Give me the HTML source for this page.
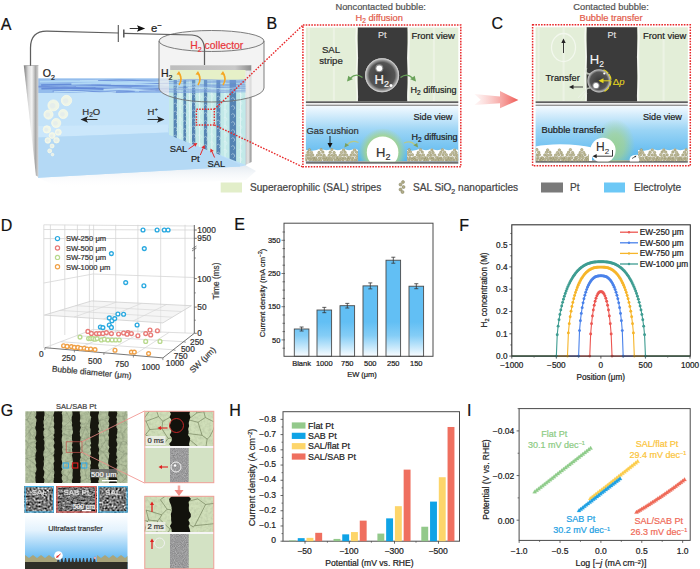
<!DOCTYPE html>
<html><head><meta charset="utf-8"><style>
html,body{margin:0;padding:0;background:#fff;overflow:hidden}
svg{display:block;font-family:"Liberation Sans", sans-serif}
</style></head><body>
<svg width="700" height="569" viewBox="0 0 700 569">
<text x="0.80" y="29.80" font-size="16" fill="#111" text-anchor="start" stroke="#111" stroke-width="0.22" >A</text>
<text x="266.50" y="29.30" font-size="16" fill="#111" text-anchor="start" stroke="#111" stroke-width="0.22" >B</text>
<text x="491.50" y="29.30" font-size="16" fill="#111" text-anchor="start" stroke="#111" stroke-width="0.22" >C</text>
<text x="0.80" y="230.50" font-size="16" fill="#111" text-anchor="start" stroke="#111" stroke-width="0.22" >D</text>
<text x="234.30" y="230.30" font-size="16" fill="#111" text-anchor="start" stroke="#111" stroke-width="0.22" >E</text>
<text x="459.30" y="230.50" font-size="16" fill="#111" text-anchor="start" stroke="#111" stroke-width="0.22" >F</text>
<text x="0.80" y="415.50" font-size="16" fill="#111" text-anchor="start" stroke="#111" stroke-width="0.22" >G</text>
<text x="229.30" y="415.50" font-size="16" fill="#111" text-anchor="start" stroke="#111" stroke-width="0.22" >H</text>
<text x="467.00" y="415.50" font-size="16" fill="#111" text-anchor="start" stroke="#111" stroke-width="0.22" >I</text>
<defs><linearGradient id="gE" x1="0" y1="322" x2="0" y2="356" gradientUnits="userSpaceOnUse"><stop offset="0" stop-color="#62bff4"/><stop offset="0.4" stop-color="#84cdf6"/><stop offset="1" stop-color="#f8fcff"/></linearGradient></defs>
<rect x="294.3" y="329.01" width="14.6" height="27.29" fill="url(#gE)" stroke="#4a4a4a" stroke-width="0.9"/>
<path d="M301.6 327.02V331.00M299.6 327.02h4M299.6 331.00h4" stroke="#333" stroke-width="0.8" fill="none"/>
<text x="301.60" y="365.80" font-size="7.5" fill="#222" text-anchor="middle" stroke="#222" stroke-width="0.22" >Blank</text>
<rect x="317" y="310.02" width="14.6" height="46.28" fill="url(#gE)" stroke="#4a4a4a" stroke-width="0.9"/>
<path d="M324.3 307.36V312.68M322.3 307.36h4M322.3 312.68h4" stroke="#333" stroke-width="0.8" fill="none"/>
<text x="324.30" y="365.80" font-size="7.5" fill="#222" text-anchor="middle" stroke="#222" stroke-width="0.22" >1000</text>
<rect x="340" y="305.70" width="14.6" height="50.60" fill="url(#gE)" stroke="#4a4a4a" stroke-width="0.9"/>
<path d="M347.3 303.38V308.03M345.3 303.38h4M345.3 308.03h4" stroke="#333" stroke-width="0.8" fill="none"/>
<text x="347.30" y="365.80" font-size="7.5" fill="#222" text-anchor="middle" stroke="#222" stroke-width="0.22" >750</text>
<rect x="363" y="285.88" width="14.6" height="70.42" fill="url(#gE)" stroke="#4a4a4a" stroke-width="0.9"/>
<path d="M370.3 282.90V288.87M368.3 282.90h4M368.3 288.87h4" stroke="#333" stroke-width="0.8" fill="none"/>
<text x="370.30" y="365.80" font-size="7.5" fill="#222" text-anchor="middle" stroke="#222" stroke-width="0.22" >500</text>
<rect x="386" y="260.22" width="14.6" height="96.08" fill="url(#gE)" stroke="#4a4a4a" stroke-width="0.9"/>
<path d="M393.3 257.23V263.21M391.3 257.23h4M391.3 263.21h4" stroke="#333" stroke-width="0.8" fill="none"/>
<text x="393.30" y="365.80" font-size="7.5" fill="#222" text-anchor="middle" stroke="#222" stroke-width="0.22" >250</text>
<rect x="409" y="286.22" width="14.6" height="70.08" fill="url(#gE)" stroke="#4a4a4a" stroke-width="0.9"/>
<path d="M416.3 283.73V288.71M414.3 283.73h4M414.3 288.71h4" stroke="#333" stroke-width="0.8" fill="none"/>
<text x="416.30" y="365.80" font-size="7.5" fill="#222" text-anchor="middle" stroke="#222" stroke-width="0.22" >150</text>
<rect x="284" y="223.2" width="149" height="133.10000000000002" fill="none" stroke="#4a4a4a" stroke-width="1"/>
<path d="M282.5 348.20h2.5" stroke="#444" stroke-width="0.7"/>
<path d="M281.5 339.90h3.5" stroke="#444" stroke-width="0.7"/>
<text x="280.40" y="342.50" font-size="7.5" fill="#222" text-anchor="end" stroke="#222" stroke-width="0.22" >50</text>
<path d="M282.5 331.60h2.5" stroke="#444" stroke-width="0.7"/>
<path d="M282.5 323.30h2.5" stroke="#444" stroke-width="0.7"/>
<path d="M282.5 315.00h2.5" stroke="#444" stroke-width="0.7"/>
<path d="M281.5 306.70h3.5" stroke="#444" stroke-width="0.7"/>
<text x="280.40" y="309.30" font-size="7.5" fill="#222" text-anchor="end" stroke="#222" stroke-width="0.22" >150</text>
<path d="M282.5 298.40h2.5" stroke="#444" stroke-width="0.7"/>
<path d="M282.5 290.10h2.5" stroke="#444" stroke-width="0.7"/>
<path d="M282.5 281.80h2.5" stroke="#444" stroke-width="0.7"/>
<path d="M281.5 273.50h3.5" stroke="#444" stroke-width="0.7"/>
<text x="280.40" y="276.10" font-size="7.5" fill="#222" text-anchor="end" stroke="#222" stroke-width="0.22" >250</text>
<path d="M282.5 265.20h2.5" stroke="#444" stroke-width="0.7"/>
<path d="M282.5 256.90h2.5" stroke="#444" stroke-width="0.7"/>
<path d="M282.5 248.60h2.5" stroke="#444" stroke-width="0.7"/>
<path d="M281.5 240.30h3.5" stroke="#444" stroke-width="0.7"/>
<text x="280.40" y="242.90" font-size="7.5" fill="#222" text-anchor="end" stroke="#222" stroke-width="0.22" >350</text>
<path d="M282.5 232.00h2.5" stroke="#444" stroke-width="0.7"/>
<text x="362.00" y="377.00" font-size="7.5" fill="#222" text-anchor="middle" stroke="#222" stroke-width="0.22" >EW (μm)</text>
<text transform="translate(264.5 293) rotate(-90)" font-size="7.7" fill="#222" stroke="#222" stroke-width="0.2" text-anchor="middle">Current density (mA cm<tspan dy="-2.5" font-size="5">−2</tspan><tspan dy="2.5">)</tspan></text>
<path d="M509.3 356.10h2.5" stroke="#333" stroke-width="0.8"/>
<text x="507.50" y="359.00" font-size="8.2" fill="#222" text-anchor="end" stroke="#222" stroke-width="0.22" >0.0</text>
<path d="M509.3 333.80h2.5" stroke="#333" stroke-width="0.8"/>
<text x="507.50" y="336.70" font-size="8.2" fill="#222" text-anchor="end" stroke="#222" stroke-width="0.22" >0.1</text>
<path d="M509.3 311.50h2.5" stroke="#333" stroke-width="0.8"/>
<text x="507.50" y="314.40" font-size="8.2" fill="#222" text-anchor="end" stroke="#222" stroke-width="0.22" >0.2</text>
<path d="M509.3 289.20h2.5" stroke="#333" stroke-width="0.8"/>
<text x="507.50" y="292.10" font-size="8.2" fill="#222" text-anchor="end" stroke="#222" stroke-width="0.22" >0.3</text>
<path d="M509.3 266.90h2.5" stroke="#333" stroke-width="0.8"/>
<text x="507.50" y="269.80" font-size="8.2" fill="#222" text-anchor="end" stroke="#222" stroke-width="0.22" >0.4</text>
<path d="M509.3 244.60h2.5" stroke="#333" stroke-width="0.8"/>
<text x="507.50" y="247.50" font-size="8.2" fill="#222" text-anchor="end" stroke="#222" stroke-width="0.22" >0.5</text>
<path d="M511.8 344.95h-1.5" stroke="#333" stroke-width="0.7"/>
<path d="M511.8 322.65h-1.5" stroke="#333" stroke-width="0.7"/>
<path d="M511.8 300.35h-1.5" stroke="#333" stroke-width="0.7"/>
<path d="M511.8 278.05h-1.5" stroke="#333" stroke-width="0.7"/>
<path d="M511.8 255.75h-1.5" stroke="#333" stroke-width="0.7"/>
<path d="M511.8 233.45h-1.5" stroke="#333" stroke-width="0.7"/>
<path d="M511.80 356.1v2.5" stroke="#333" stroke-width="0.8"/>
<text x="511.80" y="367.50" font-size="8.2" fill="#222" text-anchor="middle" stroke="#222" stroke-width="0.22" >−1000</text>
<path d="M556.35 356.1v2.5" stroke="#333" stroke-width="0.8"/>
<text x="556.35" y="367.50" font-size="8.2" fill="#222" text-anchor="middle" stroke="#222" stroke-width="0.22" >−500</text>
<path d="M600.90 356.1v2.5" stroke="#333" stroke-width="0.8"/>
<text x="600.90" y="367.50" font-size="8.2" fill="#222" text-anchor="middle" stroke="#222" stroke-width="0.22" >0</text>
<path d="M645.45 356.1v2.5" stroke="#333" stroke-width="0.8"/>
<text x="645.45" y="367.50" font-size="8.2" fill="#222" text-anchor="middle" stroke="#222" stroke-width="0.22" >500</text>
<path d="M690.00 356.1v2.5" stroke="#333" stroke-width="0.8"/>
<text x="690.00" y="367.50" font-size="8.2" fill="#222" text-anchor="middle" stroke="#222" stroke-width="0.22" >1000</text>
<path d="M534.07 356.1v1.5" stroke="#333" stroke-width="0.7"/>
<path d="M578.62 356.1v1.5" stroke="#333" stroke-width="0.7"/>
<path d="M623.17 356.1v1.5" stroke="#333" stroke-width="0.7"/>
<path d="M667.73 356.1v1.5" stroke="#333" stroke-width="0.7"/>
<text x="600.80" y="379.50" font-size="8.2" fill="#222" text-anchor="middle" stroke="#222" stroke-width="0.22" >Position (μm)</text>
<text transform="translate(486.5 290) rotate(-90)" font-size="8.2" fill="#222" stroke="#222" stroke-width="0.2" text-anchor="middle">H<tspan dy="2" font-size="5.5">2</tspan><tspan dy="-2"> concentration (M)</tspan></text>
<path d="M511.80 356.10 L589.76 356.10 L590.65 334.03 L591.54 323.66 L592.44 316.01 L593.33 310.01 L594.22 305.19 L595.11 301.32 L596.00 298.23 L596.89 295.83 L597.78 294.03 L598.67 292.78 L599.56 292.02 L600.45 291.69 L601.35 291.69 L602.24 292.02 L603.13 292.78 L604.02 294.03 L604.91 295.83 L605.80 298.23 L606.69 301.32 L607.58 305.19 L608.47 310.01 L609.36 316.01 L610.26 323.66 L611.15 334.03 L612.04 356.10 L690.00 356.10" fill="none" stroke="#ec5752" stroke-width="1.1"/>
<g fill="#ec5752"><circle cx="589.76" cy="356.10" r="1.45"/><circle cx="590.65" cy="334.03" r="1.45"/><circle cx="591.54" cy="323.66" r="1.45"/><circle cx="592.44" cy="316.01" r="1.45"/><circle cx="593.33" cy="310.01" r="1.45"/><circle cx="594.22" cy="305.19" r="1.45"/><circle cx="595.11" cy="301.32" r="1.45"/><circle cx="596.00" cy="298.23" r="1.45"/><circle cx="596.89" cy="295.83" r="1.45"/><circle cx="597.78" cy="294.03" r="1.45"/><circle cx="598.67" cy="292.78" r="1.45"/><circle cx="599.56" cy="292.02" r="1.45"/><circle cx="600.45" cy="291.69" r="1.45"/><circle cx="601.35" cy="291.69" r="1.45"/><circle cx="602.24" cy="292.02" r="1.45"/><circle cx="603.13" cy="292.78" r="1.45"/><circle cx="604.02" cy="294.03" r="1.45"/><circle cx="604.91" cy="295.83" r="1.45"/><circle cx="605.80" cy="298.23" r="1.45"/><circle cx="606.69" cy="301.32" r="1.45"/><circle cx="607.58" cy="305.19" r="1.45"/><circle cx="608.47" cy="310.01" r="1.45"/><circle cx="609.36" cy="316.01" r="1.45"/><circle cx="610.26" cy="323.66" r="1.45"/><circle cx="611.15" cy="334.03" r="1.45"/><circle cx="612.04" cy="356.10" r="1.45"/></g>
<path d="M511.80 356.10 L578.62 356.10 L579.52 330.62 L580.41 320.66 L581.30 313.41 L582.19 307.63 L583.08 302.84 L583.97 298.76 L584.86 295.26 L585.75 292.22 L586.64 289.58 L587.53 287.27 L588.43 285.26 L589.32 283.52 L590.21 282.01 L591.10 280.72 L591.99 279.62 L592.88 278.69 L593.77 277.92 L594.66 277.30 L595.55 276.81 L596.44 276.43 L597.34 276.16 L598.23 275.98 L599.12 275.88 L600.01 275.83 L600.90 275.82 L601.79 275.83 L602.68 275.88 L603.57 275.98 L604.46 276.16 L605.36 276.43 L606.25 276.81 L607.14 277.30 L608.03 277.92 L608.92 278.69 L609.81 279.62 L610.70 280.72 L611.59 282.01 L612.48 283.52 L613.37 285.26 L614.26 287.27 L615.16 289.58 L616.05 292.22 L616.94 295.26 L617.83 298.76 L618.72 302.84 L619.61 307.63 L620.50 313.41 L621.39 320.66 L622.28 330.62 L623.17 356.10 L690.00 356.10" fill="none" stroke="#4a82ea" stroke-width="1.1"/>
<g fill="#4a82ea"><circle cx="578.62" cy="356.10" r="1.45"/><circle cx="579.52" cy="330.62" r="1.45"/><circle cx="580.41" cy="320.66" r="1.45"/><circle cx="581.30" cy="313.41" r="1.45"/><circle cx="582.19" cy="307.63" r="1.45"/><circle cx="583.08" cy="302.84" r="1.45"/><circle cx="583.97" cy="298.76" r="1.45"/><circle cx="584.86" cy="295.26" r="1.45"/><circle cx="585.75" cy="292.22" r="1.45"/><circle cx="586.64" cy="289.58" r="1.45"/><circle cx="587.53" cy="287.27" r="1.45"/><circle cx="588.43" cy="285.26" r="1.45"/><circle cx="589.32" cy="283.52" r="1.45"/><circle cx="590.21" cy="282.01" r="1.45"/><circle cx="591.10" cy="280.72" r="1.45"/><circle cx="591.99" cy="279.62" r="1.45"/><circle cx="592.88" cy="278.69" r="1.45"/><circle cx="593.77" cy="277.92" r="1.45"/><circle cx="594.66" cy="277.30" r="1.45"/><circle cx="595.55" cy="276.81" r="1.45"/><circle cx="596.44" cy="276.43" r="1.45"/><circle cx="597.34" cy="276.16" r="1.45"/><circle cx="598.23" cy="275.98" r="1.45"/><circle cx="599.12" cy="275.88" r="1.45"/><circle cx="600.01" cy="275.83" r="1.45"/><circle cx="600.90" cy="275.82" r="1.45"/><circle cx="601.79" cy="275.83" r="1.45"/><circle cx="602.68" cy="275.88" r="1.45"/><circle cx="603.57" cy="275.98" r="1.45"/><circle cx="604.46" cy="276.16" r="1.45"/><circle cx="605.36" cy="276.43" r="1.45"/><circle cx="606.25" cy="276.81" r="1.45"/><circle cx="607.14" cy="277.30" r="1.45"/><circle cx="608.03" cy="277.92" r="1.45"/><circle cx="608.92" cy="278.69" r="1.45"/><circle cx="609.81" cy="279.62" r="1.45"/><circle cx="610.70" cy="280.72" r="1.45"/><circle cx="611.59" cy="282.01" r="1.45"/><circle cx="612.48" cy="283.52" r="1.45"/><circle cx="613.37" cy="285.26" r="1.45"/><circle cx="614.26" cy="287.27" r="1.45"/><circle cx="615.16" cy="289.58" r="1.45"/><circle cx="616.05" cy="292.22" r="1.45"/><circle cx="616.94" cy="295.26" r="1.45"/><circle cx="617.83" cy="298.76" r="1.45"/><circle cx="618.72" cy="302.84" r="1.45"/><circle cx="619.61" cy="307.63" r="1.45"/><circle cx="620.50" cy="313.41" r="1.45"/><circle cx="621.39" cy="320.66" r="1.45"/><circle cx="622.28" cy="330.62" r="1.45"/><circle cx="623.17" cy="356.10" r="1.45"/></g>
<path d="M511.80 356.10 L567.49 356.10 L568.38 332.92 L569.27 323.67 L570.16 316.82 L571.05 311.24 L571.94 306.50 L572.83 302.38 L573.72 298.74 L574.62 295.48 L575.51 292.55 L576.40 289.90 L577.29 287.49 L578.18 285.30 L579.07 283.30 L579.96 281.48 L580.85 279.82 L581.74 278.30 L582.63 276.92 L583.53 275.66 L584.42 274.52 L585.31 273.48 L586.20 272.55 L587.09 271.71 L587.98 270.97 L588.87 270.30 L589.76 269.72 L590.65 269.21 L591.54 268.76 L592.44 268.38 L593.33 268.07 L594.22 267.80 L595.11 267.59 L596.00 267.43 L596.89 267.30 L597.78 267.22 L598.67 267.16 L599.56 267.13 L600.45 267.12 L601.35 267.12 L602.24 267.13 L603.13 267.16 L604.02 267.22 L604.91 267.30 L605.80 267.43 L606.69 267.59 L607.58 267.80 L608.47 268.07 L609.36 268.38 L610.26 268.76 L611.15 269.21 L612.04 269.72 L612.93 270.30 L613.82 270.97 L614.71 271.71 L615.60 272.55 L616.49 273.48 L617.38 274.52 L618.27 275.66 L619.17 276.92 L620.06 278.30 L620.95 279.82 L621.84 281.48 L622.73 283.30 L623.62 285.30 L624.51 287.49 L625.40 289.90 L626.29 292.55 L627.18 295.48 L628.08 298.74 L628.97 302.38 L629.86 306.50 L630.75 311.24 L631.64 316.82 L632.53 323.67 L633.42 332.92 L634.31 356.10 L690.00 356.10" fill="none" stroke="#f6b52a" stroke-width="1.1"/>
<g fill="#f6b52a"><circle cx="567.49" cy="356.10" r="1.45"/><circle cx="568.38" cy="332.92" r="1.45"/><circle cx="569.27" cy="323.67" r="1.45"/><circle cx="570.16" cy="316.82" r="1.45"/><circle cx="571.05" cy="311.24" r="1.45"/><circle cx="571.94" cy="306.50" r="1.45"/><circle cx="572.83" cy="302.38" r="1.45"/><circle cx="573.72" cy="298.74" r="1.45"/><circle cx="574.62" cy="295.48" r="1.45"/><circle cx="575.51" cy="292.55" r="1.45"/><circle cx="576.40" cy="289.90" r="1.45"/><circle cx="577.29" cy="287.49" r="1.45"/><circle cx="578.18" cy="285.30" r="1.45"/><circle cx="579.07" cy="283.30" r="1.45"/><circle cx="579.96" cy="281.48" r="1.45"/><circle cx="580.85" cy="279.82" r="1.45"/><circle cx="581.74" cy="278.30" r="1.45"/><circle cx="582.63" cy="276.92" r="1.45"/><circle cx="583.53" cy="275.66" r="1.45"/><circle cx="584.42" cy="274.52" r="1.45"/><circle cx="585.31" cy="273.48" r="1.45"/><circle cx="586.20" cy="272.55" r="1.45"/><circle cx="587.09" cy="271.71" r="1.45"/><circle cx="587.98" cy="270.97" r="1.45"/><circle cx="588.87" cy="270.30" r="1.45"/><circle cx="589.76" cy="269.72" r="1.45"/><circle cx="590.65" cy="269.21" r="1.45"/><circle cx="591.54" cy="268.76" r="1.45"/><circle cx="592.44" cy="268.38" r="1.45"/><circle cx="593.33" cy="268.07" r="1.45"/><circle cx="594.22" cy="267.80" r="1.45"/><circle cx="595.11" cy="267.59" r="1.45"/><circle cx="596.00" cy="267.43" r="1.45"/><circle cx="596.89" cy="267.30" r="1.45"/><circle cx="597.78" cy="267.22" r="1.45"/><circle cx="598.67" cy="267.16" r="1.45"/><circle cx="599.56" cy="267.13" r="1.45"/><circle cx="600.45" cy="267.12" r="1.45"/><circle cx="601.35" cy="267.12" r="1.45"/><circle cx="602.24" cy="267.13" r="1.45"/><circle cx="603.13" cy="267.16" r="1.45"/><circle cx="604.02" cy="267.22" r="1.45"/><circle cx="604.91" cy="267.30" r="1.45"/><circle cx="605.80" cy="267.43" r="1.45"/><circle cx="606.69" cy="267.59" r="1.45"/><circle cx="607.58" cy="267.80" r="1.45"/><circle cx="608.47" cy="268.07" r="1.45"/><circle cx="609.36" cy="268.38" r="1.45"/><circle cx="610.26" cy="268.76" r="1.45"/><circle cx="611.15" cy="269.21" r="1.45"/><circle cx="612.04" cy="269.72" r="1.45"/><circle cx="612.93" cy="270.30" r="1.45"/><circle cx="613.82" cy="270.97" r="1.45"/><circle cx="614.71" cy="271.71" r="1.45"/><circle cx="615.60" cy="272.55" r="1.45"/><circle cx="616.49" cy="273.48" r="1.45"/><circle cx="617.38" cy="274.52" r="1.45"/><circle cx="618.27" cy="275.66" r="1.45"/><circle cx="619.17" cy="276.92" r="1.45"/><circle cx="620.06" cy="278.30" r="1.45"/><circle cx="620.95" cy="279.82" r="1.45"/><circle cx="621.84" cy="281.48" r="1.45"/><circle cx="622.73" cy="283.30" r="1.45"/><circle cx="623.62" cy="285.30" r="1.45"/><circle cx="624.51" cy="287.49" r="1.45"/><circle cx="625.40" cy="289.90" r="1.45"/><circle cx="626.29" cy="292.55" r="1.45"/><circle cx="627.18" cy="295.48" r="1.45"/><circle cx="628.08" cy="298.74" r="1.45"/><circle cx="628.97" cy="302.38" r="1.45"/><circle cx="629.86" cy="306.50" r="1.45"/><circle cx="630.75" cy="311.24" r="1.45"/><circle cx="631.64" cy="316.82" r="1.45"/><circle cx="632.53" cy="323.67" r="1.45"/><circle cx="633.42" cy="332.92" r="1.45"/><circle cx="634.31" cy="356.10" r="1.45"/></g>
<path d="M511.80 356.10 L556.35 356.10 L557.24 334.76 L558.13 326.17 L559.02 319.74 L559.91 314.46 L560.80 309.92 L561.70 305.94 L562.59 302.37 L563.48 299.15 L564.37 296.21 L565.26 293.52 L566.15 291.03 L567.04 288.73 L567.93 286.60 L568.82 284.61 L569.72 282.77 L570.61 281.04 L571.50 279.44 L572.39 277.94 L573.28 276.54 L574.17 275.23 L575.06 274.01 L575.95 272.87 L576.84 271.81 L577.73 270.82 L578.62 269.90 L579.52 269.05 L580.41 268.26 L581.30 267.53 L582.19 266.85 L583.08 266.23 L583.97 265.66 L584.86 265.14 L585.75 264.67 L586.64 264.24 L587.53 263.86 L588.43 263.51 L589.32 263.20 L590.21 262.93 L591.10 262.70 L591.99 262.49 L592.88 262.32 L593.77 262.17 L594.66 262.06 L595.55 261.96 L596.44 261.89 L597.34 261.84 L598.23 261.80 L599.12 261.78 L600.01 261.77 L600.90 261.77 L601.79 261.77 L602.68 261.78 L603.57 261.80 L604.46 261.84 L605.36 261.89 L606.25 261.96 L607.14 262.06 L608.03 262.17 L608.92 262.32 L609.81 262.49 L610.70 262.70 L611.59 262.93 L612.48 263.20 L613.37 263.51 L614.26 263.86 L615.16 264.24 L616.05 264.67 L616.94 265.14 L617.83 265.66 L618.72 266.23 L619.61 266.85 L620.50 267.53 L621.39 268.26 L622.28 269.05 L623.17 269.90 L624.07 270.82 L624.96 271.81 L625.85 272.87 L626.74 274.01 L627.63 275.23 L628.52 276.54 L629.41 277.94 L630.30 279.44 L631.19 281.04 L632.08 282.77 L632.98 284.61 L633.87 286.60 L634.76 288.73 L635.65 291.03 L636.54 293.52 L637.43 296.21 L638.32 299.15 L639.21 302.37 L640.10 305.94 L641.00 309.92 L641.89 314.46 L642.78 319.74 L643.67 326.17 L644.56 334.76 L645.45 356.10 L690.00 356.10" fill="none" stroke="#3f9d92" stroke-width="1.1"/>
<g fill="#3f9d92"><circle cx="556.35" cy="356.10" r="1.45"/><circle cx="557.24" cy="334.76" r="1.45"/><circle cx="558.13" cy="326.17" r="1.45"/><circle cx="559.02" cy="319.74" r="1.45"/><circle cx="559.91" cy="314.46" r="1.45"/><circle cx="560.80" cy="309.92" r="1.45"/><circle cx="561.70" cy="305.94" r="1.45"/><circle cx="562.59" cy="302.37" r="1.45"/><circle cx="563.48" cy="299.15" r="1.45"/><circle cx="564.37" cy="296.21" r="1.45"/><circle cx="565.26" cy="293.52" r="1.45"/><circle cx="566.15" cy="291.03" r="1.45"/><circle cx="567.04" cy="288.73" r="1.45"/><circle cx="567.93" cy="286.60" r="1.45"/><circle cx="568.82" cy="284.61" r="1.45"/><circle cx="569.72" cy="282.77" r="1.45"/><circle cx="570.61" cy="281.04" r="1.45"/><circle cx="571.50" cy="279.44" r="1.45"/><circle cx="572.39" cy="277.94" r="1.45"/><circle cx="573.28" cy="276.54" r="1.45"/><circle cx="574.17" cy="275.23" r="1.45"/><circle cx="575.06" cy="274.01" r="1.45"/><circle cx="575.95" cy="272.87" r="1.45"/><circle cx="576.84" cy="271.81" r="1.45"/><circle cx="577.73" cy="270.82" r="1.45"/><circle cx="578.62" cy="269.90" r="1.45"/><circle cx="579.52" cy="269.05" r="1.45"/><circle cx="580.41" cy="268.26" r="1.45"/><circle cx="581.30" cy="267.53" r="1.45"/><circle cx="582.19" cy="266.85" r="1.45"/><circle cx="583.08" cy="266.23" r="1.45"/><circle cx="583.97" cy="265.66" r="1.45"/><circle cx="584.86" cy="265.14" r="1.45"/><circle cx="585.75" cy="264.67" r="1.45"/><circle cx="586.64" cy="264.24" r="1.45"/><circle cx="587.53" cy="263.86" r="1.45"/><circle cx="588.43" cy="263.51" r="1.45"/><circle cx="589.32" cy="263.20" r="1.45"/><circle cx="590.21" cy="262.93" r="1.45"/><circle cx="591.10" cy="262.70" r="1.45"/><circle cx="591.99" cy="262.49" r="1.45"/><circle cx="592.88" cy="262.32" r="1.45"/><circle cx="593.77" cy="262.17" r="1.45"/><circle cx="594.66" cy="262.06" r="1.45"/><circle cx="595.55" cy="261.96" r="1.45"/><circle cx="596.44" cy="261.89" r="1.45"/><circle cx="597.34" cy="261.84" r="1.45"/><circle cx="598.23" cy="261.80" r="1.45"/><circle cx="599.12" cy="261.78" r="1.45"/><circle cx="600.01" cy="261.77" r="1.45"/><circle cx="600.90" cy="261.77" r="1.45"/><circle cx="601.79" cy="261.77" r="1.45"/><circle cx="602.68" cy="261.78" r="1.45"/><circle cx="603.57" cy="261.80" r="1.45"/><circle cx="604.46" cy="261.84" r="1.45"/><circle cx="605.36" cy="261.89" r="1.45"/><circle cx="606.25" cy="261.96" r="1.45"/><circle cx="607.14" cy="262.06" r="1.45"/><circle cx="608.03" cy="262.17" r="1.45"/><circle cx="608.92" cy="262.32" r="1.45"/><circle cx="609.81" cy="262.49" r="1.45"/><circle cx="610.70" cy="262.70" r="1.45"/><circle cx="611.59" cy="262.93" r="1.45"/><circle cx="612.48" cy="263.20" r="1.45"/><circle cx="613.37" cy="263.51" r="1.45"/><circle cx="614.26" cy="263.86" r="1.45"/><circle cx="615.16" cy="264.24" r="1.45"/><circle cx="616.05" cy="264.67" r="1.45"/><circle cx="616.94" cy="265.14" r="1.45"/><circle cx="617.83" cy="265.66" r="1.45"/><circle cx="618.72" cy="266.23" r="1.45"/><circle cx="619.61" cy="266.85" r="1.45"/><circle cx="620.50" cy="267.53" r="1.45"/><circle cx="621.39" cy="268.26" r="1.45"/><circle cx="622.28" cy="269.05" r="1.45"/><circle cx="623.17" cy="269.90" r="1.45"/><circle cx="624.07" cy="270.82" r="1.45"/><circle cx="624.96" cy="271.81" r="1.45"/><circle cx="625.85" cy="272.87" r="1.45"/><circle cx="626.74" cy="274.01" r="1.45"/><circle cx="627.63" cy="275.23" r="1.45"/><circle cx="628.52" cy="276.54" r="1.45"/><circle cx="629.41" cy="277.94" r="1.45"/><circle cx="630.30" cy="279.44" r="1.45"/><circle cx="631.19" cy="281.04" r="1.45"/><circle cx="632.08" cy="282.77" r="1.45"/><circle cx="632.98" cy="284.61" r="1.45"/><circle cx="633.87" cy="286.60" r="1.45"/><circle cx="634.76" cy="288.73" r="1.45"/><circle cx="635.65" cy="291.03" r="1.45"/><circle cx="636.54" cy="293.52" r="1.45"/><circle cx="637.43" cy="296.21" r="1.45"/><circle cx="638.32" cy="299.15" r="1.45"/><circle cx="639.21" cy="302.37" r="1.45"/><circle cx="640.10" cy="305.94" r="1.45"/><circle cx="641.00" cy="309.92" r="1.45"/><circle cx="641.89" cy="314.46" r="1.45"/><circle cx="642.78" cy="319.74" r="1.45"/><circle cx="643.67" cy="326.17" r="1.45"/><circle cx="644.56" cy="334.76" r="1.45"/><circle cx="645.45" cy="356.10" r="1.45"/></g>
<rect x="511.8" y="224.8" width="178.49999999999994" height="131.3" fill="none" stroke="#333" stroke-width="1.1"/>
<path d="M620 232.20H638" stroke="#ec5752" stroke-width="1.3"/><circle cx="629" cy="232.20" r="1.2" fill="#ec5752"/>
<text x="639.80" y="235.10" font-size="8.3" fill="#222" text-anchor="start" stroke="#222" stroke-width="0.22" >EW-250 μm</text>
<path d="M620 242.80H638" stroke="#4a82ea" stroke-width="1.3"/><circle cx="629" cy="242.80" r="1.2" fill="#4a82ea"/>
<text x="639.80" y="245.70" font-size="8.3" fill="#222" text-anchor="start" stroke="#222" stroke-width="0.22" >EW-500 μm</text>
<path d="M620 253.40H638" stroke="#f6b52a" stroke-width="1.3"/><circle cx="629" cy="253.40" r="1.2" fill="#f6b52a"/>
<text x="639.80" y="256.30" font-size="8.3" fill="#222" text-anchor="start" stroke="#222" stroke-width="0.22" >EW-750 μm</text>
<path d="M620 264.00H638" stroke="#3f9d92" stroke-width="1.3"/><circle cx="629" cy="264.00" r="1.2" fill="#3f9d92"/>
<text x="639.80" y="266.90" font-size="8.3" fill="#222" text-anchor="start" stroke="#222" stroke-width="0.22" >EW-1000 μm</text>
<rect x="283" y="411.7" width="176.5" height="129.50000000000006" fill="none" stroke="#4a4a4a" stroke-width="1"/>
<path d="M283 541.20h-2.5" stroke="#444" stroke-width="0.8"/>
<path d="M283 533.59h-1.5" stroke="#444" stroke-width="0.7"/>
<text x="276.00" y="543.40" font-size="8.5" fill="#222" text-anchor="end" stroke="#222" stroke-width="0.22" >0</text>
<path d="M283 525.97h-2.5" stroke="#444" stroke-width="0.8"/>
<path d="M283 518.36h-1.5" stroke="#444" stroke-width="0.7"/>
<text x="276.00" y="528.17" font-size="8.5" fill="#222" text-anchor="end" stroke="#222" stroke-width="0.22" >−0.1</text>
<path d="M283 510.74h-2.5" stroke="#444" stroke-width="0.8"/>
<path d="M283 503.13h-1.5" stroke="#444" stroke-width="0.7"/>
<text x="276.00" y="512.94" font-size="8.5" fill="#222" text-anchor="end" stroke="#222" stroke-width="0.22" >−0.2</text>
<path d="M283 495.51h-2.5" stroke="#444" stroke-width="0.8"/>
<path d="M283 487.90h-1.5" stroke="#444" stroke-width="0.7"/>
<text x="276.00" y="497.71" font-size="8.5" fill="#222" text-anchor="end" stroke="#222" stroke-width="0.22" >−0.3</text>
<path d="M283 480.28h-2.5" stroke="#444" stroke-width="0.8"/>
<path d="M283 472.67h-1.5" stroke="#444" stroke-width="0.7"/>
<text x="276.00" y="482.48" font-size="8.5" fill="#222" text-anchor="end" stroke="#222" stroke-width="0.22" >−0.4</text>
<path d="M283 465.05h-2.5" stroke="#444" stroke-width="0.8"/>
<path d="M283 457.44h-1.5" stroke="#444" stroke-width="0.7"/>
<text x="276.00" y="467.25" font-size="8.5" fill="#222" text-anchor="end" stroke="#222" stroke-width="0.22" >−0.5</text>
<path d="M283 449.82h-2.5" stroke="#444" stroke-width="0.8"/>
<path d="M283 442.21h-1.5" stroke="#444" stroke-width="0.7"/>
<text x="276.00" y="452.02" font-size="8.5" fill="#222" text-anchor="end" stroke="#222" stroke-width="0.22" >−0.6</text>
<path d="M283 434.59h-2.5" stroke="#444" stroke-width="0.8"/>
<path d="M283 426.98h-1.5" stroke="#444" stroke-width="0.7"/>
<text x="276.00" y="436.79" font-size="8.5" fill="#222" text-anchor="end" stroke="#222" stroke-width="0.22" >−0.7</text>
<path d="M283 419.36h-2.5" stroke="#444" stroke-width="0.8"/>
<text x="276.00" y="421.56" font-size="8.5" fill="#222" text-anchor="end" stroke="#222" stroke-width="0.22" >−0.8</text>
<rect x="289.00" y="540.44" width="6.9" height="0.76" fill="#93c98b"/>
<rect x="297.75" y="538.15" width="6.9" height="3.05" fill="#0fa3e6"/>
<rect x="306.50" y="537.85" width="6.9" height="3.35" fill="#fdd56a"/>
<rect x="315.25" y="532.82" width="6.9" height="8.38" fill="#ef6f5f"/>
<rect x="333.50" y="538.92" width="6.9" height="2.28" fill="#93c98b"/>
<rect x="342.25" y="534.35" width="6.9" height="6.85" fill="#0fa3e6"/>
<rect x="351.00" y="532.06" width="6.9" height="9.14" fill="#fdd56a"/>
<rect x="359.75" y="520.64" width="6.9" height="20.56" fill="#ef6f5f"/>
<rect x="377.40" y="533.59" width="6.9" height="7.62" fill="#93c98b"/>
<rect x="386.15" y="518.36" width="6.9" height="22.85" fill="#0fa3e6"/>
<rect x="394.90" y="506.17" width="6.9" height="35.03" fill="#fdd56a"/>
<rect x="403.65" y="469.62" width="6.9" height="71.58" fill="#ef6f5f"/>
<rect x="421.30" y="526.73" width="6.9" height="14.47" fill="#93c98b"/>
<rect x="430.05" y="501.60" width="6.9" height="39.60" fill="#0fa3e6"/>
<rect x="438.80" y="477.23" width="6.9" height="63.97" fill="#fdd56a"/>
<rect x="447.55" y="426.98" width="6.9" height="114.23" fill="#ef6f5f"/>
<path d="M305 541.2v2.5" stroke="#444" stroke-width="0.8"/>
<text x="304.60" y="553.70" font-size="8.6" fill="#222" text-anchor="middle" stroke="#222" stroke-width="0.22" >−50</text>
<path d="M349.3 541.2v2.5" stroke="#444" stroke-width="0.8"/>
<text x="348.90" y="553.70" font-size="8.6" fill="#222" text-anchor="middle" stroke="#222" stroke-width="0.22" >−100</text>
<path d="M394.5 541.2v2.5" stroke="#444" stroke-width="0.8"/>
<text x="394.10" y="553.70" font-size="8.6" fill="#222" text-anchor="middle" stroke="#222" stroke-width="0.22" >−300</text>
<path d="M438.5 541.2v2.5" stroke="#444" stroke-width="0.8"/>
<text x="438.10" y="553.70" font-size="8.6" fill="#222" text-anchor="middle" stroke="#222" stroke-width="0.22" >−500</text>
<path d="M327.4 541.2v1.5" stroke="#444" stroke-width="0.7"/>
<path d="M371.4 541.2v1.5" stroke="#444" stroke-width="0.7"/>
<path d="M416 541.2v1.5" stroke="#444" stroke-width="0.7"/>
<rect x="291.8" y="422.40" width="13.7" height="6.2" fill="#93c98b"/>
<text x="308.00" y="428.60" font-size="8.9" fill="#222" text-anchor="start" stroke="#222" stroke-width="0.22" >Flat Pt</text>
<rect x="291.8" y="432.75" width="13.7" height="6.2" fill="#0fa3e6"/>
<text x="308.00" y="438.95" font-size="8.9" fill="#222" text-anchor="start" stroke="#222" stroke-width="0.22" >SAB Pt</text>
<rect x="291.8" y="443.10" width="13.7" height="6.2" fill="#fdd56a"/>
<text x="308.00" y="449.30" font-size="8.9" fill="#222" text-anchor="start" stroke="#222" stroke-width="0.22" >SAL/flat Pt</text>
<rect x="291.8" y="453.45" width="13.7" height="6.2" fill="#ef6f5f"/>
<text x="308.00" y="459.65" font-size="8.9" fill="#222" text-anchor="start" stroke="#222" stroke-width="0.22" >SAL/SAB Pt</text>
<text x="369.50" y="565.50" font-size="8.6" fill="#222" text-anchor="middle" stroke="#222" stroke-width="0.22" >Potential (mV vs. RHE)</text>
<text transform="translate(254.5 477.5) rotate(-90)" font-size="9.2" fill="#222" stroke="#222" stroke-width="0.2" text-anchor="middle">Current density  (A cm<tspan dy="-2.5" font-size="5.5">−2</tspan><tspan dy="2.5">)</tspan></text>
<rect x="519.1" y="408.6" width="171.10000000000002" height="131.79999999999995" fill="none" stroke="#4a4a4a" stroke-width="1"/>
<path d="M519.1 520.20h-2.5" stroke="#444" stroke-width="0.8"/>
<text x="514.30" y="523.60" font-size="8.5" fill="#222" text-anchor="end" stroke="#222" stroke-width="0.22" >0.00</text>
<path d="M519.1 475.56h-2.5" stroke="#444" stroke-width="0.8"/>
<text x="514.30" y="478.96" font-size="8.5" fill="#222" text-anchor="end" stroke="#222" stroke-width="0.22" >−0.02</text>
<path d="M519.1 430.92h-2.5" stroke="#444" stroke-width="0.8"/>
<text x="514.30" y="434.32" font-size="8.5" fill="#222" text-anchor="end" stroke="#222" stroke-width="0.22" >−0.04</text>
<path d="M519.1 497.88h-1.5" stroke="#444" stroke-width="0.7"/>
<path d="M519.1 453.24h-1.5" stroke="#444" stroke-width="0.7"/>
<path d="M519.1 408.60h-1.5" stroke="#444" stroke-width="0.7"/>
<path d="M519.15 540.4v2.5" stroke="#444" stroke-width="0.8"/>
<text x="519.15" y="553.50" font-size="8.5" fill="#222" text-anchor="middle" stroke="#222" stroke-width="0.22" >−1.0</text>
<path d="M560.02 540.4v2.5" stroke="#444" stroke-width="0.8"/>
<text x="560.02" y="553.50" font-size="8.5" fill="#222" text-anchor="middle" stroke="#222" stroke-width="0.22" >−0.5</text>
<path d="M600.90 540.4v2.5" stroke="#444" stroke-width="0.8"/>
<text x="600.90" y="553.50" font-size="8.5" fill="#222" text-anchor="middle" stroke="#222" stroke-width="0.22" >0.0</text>
<path d="M641.77 540.4v2.5" stroke="#444" stroke-width="0.8"/>
<text x="641.77" y="553.50" font-size="8.5" fill="#222" text-anchor="middle" stroke="#222" stroke-width="0.22" >0.5</text>
<path d="M682.65 540.4v2.5" stroke="#444" stroke-width="0.8"/>
<text x="682.65" y="553.50" font-size="8.5" fill="#222" text-anchor="middle" stroke="#222" stroke-width="0.22" >1.0</text>
<path d="M539.59 540.4v1.5" stroke="#444" stroke-width="0.7"/>
<path d="M580.46 540.4v1.5" stroke="#444" stroke-width="0.7"/>
<path d="M621.34 540.4v1.5" stroke="#444" stroke-width="0.7"/>
<path d="M662.21 540.4v1.5" stroke="#444" stroke-width="0.7"/>
<text x="611.00" y="566.00" font-size="8.8" fill="#222" text-anchor="middle" stroke="#222" stroke-width="0.22" >Log [−<tspan font-style="italic">j</tspan> (mA cm<tspan dy="-2.5" font-size="5.8">−2</tspan><tspan dy="2.5">)]</tspan></text>
<text transform="translate(488.5 479.5) rotate(-90)" font-size="8.5" fill="#222" stroke="#222" stroke-width="0.2" text-anchor="middle">Potential (V vs. RHE)</text>
<path d="M532.70 493.20L534.70 489.70L536.70 493.20ZM534.63 491.69L536.63 488.19L538.63 491.69ZM536.56 490.19L538.56 486.69L540.56 490.19ZM538.48 488.68L540.48 485.18L542.48 488.68ZM540.41 487.17L542.41 483.67L544.41 487.17ZM542.34 485.67L544.34 482.17L546.34 485.67ZM544.27 484.16L546.27 480.66L548.27 484.16ZM546.19 482.65L548.19 479.15L550.19 482.65ZM548.12 481.14L550.12 477.64L552.12 481.14ZM550.05 479.64L552.05 476.14L554.05 479.64ZM551.98 478.13L553.98 474.63L555.98 478.13ZM553.90 476.62L555.90 473.12L557.90 476.62ZM555.83 475.12L557.83 471.62L559.83 475.12ZM557.76 473.61L559.76 470.11L561.76 473.61ZM559.69 472.10L561.69 468.60L563.69 472.10ZM561.61 470.60L563.61 467.10L565.61 470.60ZM563.54 469.09L565.54 465.59L567.54 469.09ZM565.47 467.58L567.47 464.08L569.47 467.58ZM567.40 466.08L569.40 462.58L571.40 466.08ZM569.32 464.57L571.32 461.07L573.32 464.57ZM571.25 463.06L573.25 459.56L575.25 463.06ZM573.18 461.56L575.18 458.06L577.18 461.56ZM575.11 460.05L577.11 456.55L579.11 460.05ZM577.03 458.54L579.03 455.04L581.03 458.54ZM578.96 457.03L580.96 453.53L582.96 457.03ZM580.89 455.53L582.89 452.03L584.89 455.53ZM582.82 454.02L584.82 450.52L586.82 454.02ZM584.74 452.51L586.74 449.01L588.74 452.51ZM586.67 451.01L588.67 447.51L590.67 451.01ZM588.60 449.50L590.60 446.00L592.60 449.50Z" fill="#8fcc8a" stroke="#8fcc8a" stroke-width="0.3"/>
<path d="M588.30 499.90L590.30 496.40L592.30 499.90ZM590.19 498.45L592.19 494.95L594.19 498.45ZM592.08 496.99L594.08 493.49L596.08 496.99ZM593.98 495.53L595.98 492.03L597.98 495.53ZM595.87 494.07L597.87 490.57L599.87 494.07ZM597.76 492.61L599.76 489.11L601.76 492.61ZM599.65 491.14L601.65 487.64L603.65 491.14ZM601.54 489.67L603.54 486.17L605.54 489.67ZM603.44 488.20L605.44 484.70L607.44 488.20ZM605.33 486.73L607.33 483.23L609.33 486.73ZM607.22 485.25L609.22 481.75L611.22 485.25ZM609.11 483.77L611.11 480.27L613.11 483.77ZM611.00 482.29L613.00 478.79L615.00 482.29ZM612.90 480.81L614.90 477.31L616.90 480.81ZM614.79 479.32L616.79 475.82L618.79 479.32ZM616.68 477.83L618.68 474.33L620.68 477.83ZM618.57 476.34L620.57 472.84L622.57 476.34ZM620.46 474.85L622.46 471.35L624.46 474.85ZM622.36 473.35L624.36 469.85L626.36 473.35ZM624.25 471.85L626.25 468.35L628.25 471.85ZM626.14 470.35L628.14 466.85L630.14 470.35ZM628.03 468.84L630.03 465.34L632.03 468.84ZM629.92 467.34L631.92 463.84L633.92 467.34ZM631.82 465.83L633.82 462.33L635.82 465.83ZM633.71 464.31L635.71 460.81L637.71 464.31ZM635.60 462.80L637.60 459.30L639.60 462.80Z" fill="#fccd4c" stroke="#fccd4c" stroke-width="0.3"/>
<path d="M577.00 511.90L579.00 508.40L581.00 511.90ZM578.78 510.51L580.78 507.01L582.78 510.51ZM580.57 509.13L582.57 505.63L584.57 509.13ZM582.35 507.74L584.35 504.24L586.35 507.74ZM584.13 506.35L586.13 502.85L588.13 506.35ZM585.91 504.97L587.91 501.47L589.91 504.97ZM587.70 503.58L589.70 500.08L591.70 503.58ZM589.48 502.19L591.48 498.69L593.48 502.19ZM591.26 500.80L593.26 497.30L595.26 500.80ZM593.04 499.42L595.04 495.92L597.04 499.42ZM594.83 498.03L596.83 494.53L598.83 498.03ZM596.61 496.64L598.61 493.14L600.61 496.64ZM598.39 495.26L600.39 491.76L602.39 495.26ZM600.17 493.87L602.17 490.37L604.17 493.87ZM601.96 492.48L603.96 488.98L605.96 492.48ZM603.74 491.10L605.74 487.60L607.74 491.10ZM605.52 489.71L607.52 486.21L609.52 489.71ZM607.30 488.32L609.30 484.82L611.30 488.32ZM609.09 486.93L611.09 483.43L613.09 486.93ZM610.87 485.55L612.87 482.05L614.87 485.55ZM612.65 484.16L614.65 480.66L616.65 484.16ZM614.43 482.77L616.43 479.27L618.43 482.77ZM616.22 481.39L618.22 477.89L620.22 481.39ZM618.00 480.00L620.00 476.50L622.00 480.00Z" fill="#1ea1e3" stroke="#1ea1e3" stroke-width="0.3"/>
<path d="M634.50 513.60L636.50 510.10L638.50 513.60ZM636.28 512.54L638.28 509.04L640.28 512.54ZM638.06 511.46L640.06 507.96L642.06 511.46ZM639.83 510.37L641.83 506.87L643.83 510.37ZM641.61 509.28L643.61 505.78L645.61 509.28ZM643.39 508.17L645.39 504.67L647.39 508.17ZM645.17 507.05L647.17 503.55L649.17 507.05ZM646.94 505.92L648.94 502.42L650.94 505.92ZM648.72 504.77L650.72 501.27L652.72 504.77ZM650.50 503.62L652.50 500.12L654.50 503.62ZM652.28 502.46L654.28 498.96L656.28 502.46ZM654.06 501.28L656.06 497.78L658.06 501.28ZM655.83 500.10L657.83 496.60L659.83 500.10ZM657.61 498.90L659.61 495.40L661.61 498.90ZM659.39 497.69L661.39 494.19L663.39 497.69ZM661.17 496.48L663.17 492.98L665.17 496.48ZM662.94 495.25L664.94 491.75L666.94 495.25ZM664.72 494.01L666.72 490.51L668.72 494.01ZM666.50 492.76L668.50 489.26L670.50 492.76ZM668.28 491.49L670.28 487.99L672.28 491.49ZM670.06 490.22L672.06 486.72L674.06 490.22ZM671.83 488.94L673.83 485.44L675.83 488.94ZM673.61 487.64L675.61 484.14L677.61 487.64ZM675.39 486.33L677.39 482.83L679.39 486.33ZM677.17 485.02L679.17 481.52L681.17 485.02ZM678.94 483.69L680.94 480.19L682.94 483.69ZM680.72 482.35L682.72 478.85L684.72 482.35ZM682.50 481.00L684.50 477.50L686.50 481.00Z" fill="#ef6a58" stroke="#ef6a58" stroke-width="0.3"/>
<text x="554.30" y="437.00" font-size="9" fill="#8ccb83" text-anchor="middle" stroke="#8ccb83" stroke-width="0.22" >Flat Pt</text>
<text x="556.50" y="447.50" font-size="9" fill="#8ccb83" text-anchor="middle" stroke="#8ccb83" stroke-width="0.22" >30.1 mV dec<tspan dy="-2.5" font-size="5.5">−1</tspan></text>
<text x="657.00" y="446.50" font-size="9" fill="#fbc43a" text-anchor="middle" stroke="#fbc43a" stroke-width="0.22" >SAL/flat Pt</text>
<text x="657.80" y="457.50" font-size="9" fill="#fbc43a" text-anchor="middle" stroke="#fbc43a" stroke-width="0.22" >29.4 mV dec<tspan dy="-2.5" font-size="5.5">−1</tspan></text>
<text x="580.70" y="522.00" font-size="9" fill="#1ea1e3" text-anchor="middle" stroke="#1ea1e3" stroke-width="0.22" >SAB Pt</text>
<text x="581.70" y="533.00" font-size="9" fill="#1ea1e3" text-anchor="middle" stroke="#1ea1e3" stroke-width="0.22" >30.2 mV dec<tspan dy="-2.5" font-size="5.5">−1</tspan></text>
<text x="658.80" y="523.50" font-size="9" fill="#ef6a58" text-anchor="middle" stroke="#ef6a58" stroke-width="0.22" >SAL/SAB Pt</text>
<text x="658.80" y="534.50" font-size="9" fill="#ef6a58" text-anchor="middle" stroke="#ef6a58" stroke-width="0.22" >26.3 mV dec<tspan dy="-2.5" font-size="5.5">−1</tspan></text>
<defs>
<linearGradient id="gElec" x1="0" y1="0" x2="1" y2="0"><stop offset="0" stop-color="#7a7a7a"/><stop offset="0.3" stop-color="#d8d8d8"/><stop offset="0.55" stop-color="#f4f4f4"/><stop offset="0.8" stop-color="#a8a8a8"/><stop offset="1" stop-color="#d5d5d5"/></linearGradient>
<linearGradient id="gWall" x1="0" y1="0" x2="1" y2="0"><stop offset="0" stop-color="#c4c4c4"/><stop offset="0.45" stop-color="#e6e6e6"/><stop offset="1" stop-color="#8c8c8c"/></linearGradient>
<linearGradient id="gShadow" x1="0" y1="0" x2="0" y2="1"><stop offset="0" stop-color="#dde6ee"/><stop offset="1" stop-color="#ffffff" stop-opacity="0"/></linearGradient>
<radialGradient id="gBub" cx="0.5" cy="0.5" r="0.5"><stop offset="0" stop-color="#eef6fb"/><stop offset="0.7" stop-color="#f3f6e6"/><stop offset="1" stop-color="#fafbe8"/></radialGradient>
<clipPath id="cpWave"><rect x="38" y="78.5" width="208" height="14.5"/></clipPath>
<clipPath id="cpArr"><path d="M169 76 H245.5 V165 L169 135 Z"/></clipPath>
<clipPath id="cpArr2"><rect x="169" y="78.5" width="76.5" height="14.5"/></clipPath>
</defs>
<path d="M38 177.8 L246 165.5 L256 171 L246 180 L60 188 Z" fill="url(#gShadow)" opacity="0.8"/>
<path d="M38 78.5 L246 78.5 L246 165.5 L240 166.5 L38 177.8 Z" fill="#bcdff8"/>
<path d="M38 92 L246 92 L246 128 L38 128 Z" fill="#c2e2f9"/>
<path d="M38 126 L168 124.5 L168 132.5 L38 137.4 Z" fill="#cbe7fb" opacity="0.95"/>
<path d="M38 137.4 L168 132.5 L240 164.5 L240 166.5 L38 177.8 Z" fill="#b4d9f5"/>
<path d="M38 78.5 H246 V93 H38 Z" fill="#94bcec"/>
<g clip-path="url(#cpWave)"><path d="M178.4 87.6 q27.9 -1.2 55.8 0.3 t55.8 -0.3" stroke="#5a7fd0" stroke-width="1.5" fill="none" opacity="0.9"/><path d="M198.1 86.4 q27.5 -1.2 54.9 0.3 t54.9 -0.3" stroke="#6b90da" stroke-width="1.5" fill="none" opacity="0.9"/><path d="M52.6 91.2 q20.6 -1.2 41.1 0.3 t41.1 -0.3" stroke="#6b90da" stroke-width="1.2" fill="none" opacity="0.9"/><path d="M79.9 80.8 q26.5 -1.2 52.9 0.3 t52.9 -0.3" stroke="#c2e2f8" stroke-width="1.2" fill="none" opacity="0.9"/><path d="M183.1 91.4 q13.6 -1.2 27.2 0.3 t27.2 -0.3" stroke="#5f86d6" stroke-width="1.0" fill="none" opacity="0.9"/><path d="M55.3 87.5 q10.0 -1.2 20.1 0.3 t20.1 -0.3" stroke="#5f86d6" stroke-width="1.1" fill="none" opacity="0.9"/><path d="M226.5 82.3 q29.6 -1.2 59.3 0.3 t59.3 -0.3" stroke="#7d9fe0" stroke-width="1.2" fill="none" opacity="0.9"/><path d="M205.2 82.1 q24.1 -1.2 48.2 0.3 t48.2 -0.3" stroke="#6b90da" stroke-width="1.7" fill="none" opacity="0.9"/><path d="M223.3 88.5 q30.1 -1.2 60.2 0.3 t60.2 -0.3" stroke="#7d9fe0" stroke-width="0.9" fill="none" opacity="0.9"/><path d="M217.2 84.9 q15.9 -1.2 31.9 0.3 t31.9 -0.3" stroke="#7d9fe0" stroke-width="1.2" fill="none" opacity="0.9"/><path d="M30.7 87.3 q25.3 -1.2 50.5 0.3 t50.5 -0.3" stroke="#7d9fe0" stroke-width="1.0" fill="none" opacity="0.9"/><path d="M91.2 84.1 q25.7 -1.2 51.3 0.3 t51.3 -0.3" stroke="#6b90da" stroke-width="1.3" fill="none" opacity="0.9"/><path d="M41.4 88.7 q31.9 -1.2 63.9 0.3 t63.9 -0.3" stroke="#5f86d6" stroke-width="1.8" fill="none" opacity="0.9"/><path d="M110.9 84.1 q22.4 -1.2 44.7 0.3 t44.7 -0.3" stroke="#c2e2f8" stroke-width="1.2" fill="none" opacity="0.9"/><path d="M31.8 87.0 q11.1 -1.2 22.1 0.3 t22.1 -0.3" stroke="#6b90da" stroke-width="1.5" fill="none" opacity="0.9"/><path d="M53.8 91.9 q15.5 -1.2 31.1 0.3 t31.1 -0.3" stroke="#c2e2f8" stroke-width="1.2" fill="none" opacity="0.9"/><path d="M134.9 84.1 q27.5 -1.2 54.9 0.3 t54.9 -0.3" stroke="#5f86d6" stroke-width="1.4" fill="none" opacity="0.9"/><path d="M103.5 89.7 q16.7 -1.2 33.3 0.3 t33.3 -0.3" stroke="#c2e2f8" stroke-width="1.8" fill="none" opacity="0.9"/><path d="M98.1 80.7 q23.7 -1.2 47.5 0.3 t47.5 -0.3" stroke="#6b90da" stroke-width="1.2" fill="none" opacity="0.9"/><path d="M139.0 91.5 q17.0 -1.2 34.1 0.3 t34.1 -0.3" stroke="#7d9fe0" stroke-width="1.2" fill="none" opacity="0.9"/><path d="M155.4 89.9 q26.2 -1.2 52.5 0.3 t52.5 -0.3" stroke="#7d9fe0" stroke-width="1.8" fill="none" opacity="0.9"/><path d="M39.7 81.6 q32.2 -1.2 64.4 0.3 t64.4 -0.3" stroke="#b5dbf6" stroke-width="1.7" fill="none" opacity="0.9"/><path d="M178.1 79.9 q17.7 -1.2 35.5 0.3 t35.5 -0.3" stroke="#7d9fe0" stroke-width="1.3" fill="none" opacity="0.9"/><path d="M41.1 85.0 q30.6 -1.2 61.2 0.3 t61.2 -0.3" stroke="#5f86d6" stroke-width="1.6" fill="none" opacity="0.9"/><path d="M71.4 83.8 q32.1 -1.2 64.2 0.3 t64.2 -0.3" stroke="#b5dbf6" stroke-width="1.8" fill="none" opacity="0.9"/><path d="M187.6 87.7 q12.4 -1.2 24.8 0.3 t24.8 -0.3" stroke="#c2e2f8" stroke-width="1.2" fill="none" opacity="0.9"/></g>
<path d="M23.8 65.5 H38.4 V177 L35.9 175.5 Z" fill="url(#gElec)"/>
<path d="M23.8 65.5 H38.4" stroke="#9a9a9a" stroke-width="0.6"/>
<path d="M245.5 65 H251.5 V162 L245.5 165 Z" fill="url(#gWall)"/>
<path d="M159 41 V88 A52.5 14 0 0 0 264 88 V41 Z" fill="#efefef" opacity="0.75"/>
<ellipse cx="211.5" cy="41" rx="52.5" ry="10.5" fill="#f0f0f0" stroke="#6e6e6e" stroke-width="0.9"/>
<defs><linearGradient id="gBar" x1="0" y1="0" x2="1" y2="0"><stop offset="0" stop-color="#bdbdbd"/><stop offset="0.8" stop-color="#c9c9c9"/><stop offset="1" stop-color="#8e8e8e"/></linearGradient></defs>
<rect x="170.2" y="65.3" width="81" height="5.2" fill="url(#gBar)"/>
<path d="M170 70 H245.5 V87 H170 Z" fill="#e6f0c8"/>
<g clip-path="url(#cpArr)"><path d="M169 80 H245.5 V165 L169 135 Z" fill="#c2e9e8"/><rect x="173.6" y="80" width="3.3000000000000114" height="90" fill="#5584b3"/><rect x="183.4" y="80" width="2.6999999999999886" height="90" fill="#5584b3"/><rect x="192" y="80" width="3.3000000000000114" height="90" fill="#5584b3"/><rect x="203.9" y="80" width="3.299999999999983" height="90" fill="#5584b3"/><rect x="216.4" y="80" width="3.9000000000000057" height="90" fill="#5584b3"/><rect x="229.6" y="80" width="6.5" height="90" fill="#5584b3"/><rect x="179.5" y="80" width="1" height="90" fill="#e6f6f6" opacity="0.8"/><rect x="189.0" y="80" width="1" height="90" fill="#e6f6f6" opacity="0.8"/><rect x="199.0" y="80" width="1" height="90" fill="#e6f6f6" opacity="0.8"/><rect x="211.3" y="80" width="1" height="90" fill="#e6f6f6" opacity="0.8"/><rect x="224.5" y="80" width="1" height="90" fill="#e6f6f6" opacity="0.8"/><rect x="240.0" y="80" width="1" height="90" fill="#e6f6f6" opacity="0.8"/></g>
<g clip-path="url(#cpArr)" opacity="0.8"><path d="M173.8 88.10000000000014 q1.5 -2 3 0 t-1 3" stroke="#e8f6f8" stroke-width="0.6" fill="none"/><path d="M173.8 96.10000000000014 q1.5 -2 3 0 t-1 3" stroke="#e8f6f8" stroke-width="0.6" fill="none"/><path d="M173.8 104.10000000000014 q1.5 -2 3 0 t-1 3" stroke="#e8f6f8" stroke-width="0.6" fill="none"/><path d="M173.8 112.10000000000014 q1.5 -2 3 0 t-1 3" stroke="#e8f6f8" stroke-width="0.6" fill="none"/><path d="M173.8 120.10000000000014 q1.5 -2 3 0 t-1 3" stroke="#e8f6f8" stroke-width="0.6" fill="none"/><path d="M173.8 128.10000000000014 q1.5 -2 3 0 t-1 3" stroke="#e8f6f8" stroke-width="0.6" fill="none"/><path d="M173.8 136.10000000000014 q1.5 -2 3 0 t-1 3" stroke="#e8f6f8" stroke-width="0.6" fill="none"/><path d="M173.8 144.10000000000014 q1.5 -2 3 0 t-1 3" stroke="#e8f6f8" stroke-width="0.6" fill="none"/><path d="M173.8 152.10000000000014 q1.5 -2 3 0 t-1 3" stroke="#e8f6f8" stroke-width="0.6" fill="none"/><path d="M173.8 160.10000000000014 q1.5 -2 3 0 t-1 3" stroke="#e8f6f8" stroke-width="0.6" fill="none"/><path d="M183.3 89.60000000000014 q1.5 -2 3 0 t-1 3" stroke="#e8f6f8" stroke-width="0.6" fill="none"/><path d="M183.3 97.60000000000014 q1.5 -2 3 0 t-1 3" stroke="#e8f6f8" stroke-width="0.6" fill="none"/><path d="M183.3 105.60000000000014 q1.5 -2 3 0 t-1 3" stroke="#e8f6f8" stroke-width="0.6" fill="none"/><path d="M183.3 113.60000000000014 q1.5 -2 3 0 t-1 3" stroke="#e8f6f8" stroke-width="0.6" fill="none"/><path d="M183.3 121.60000000000014 q1.5 -2 3 0 t-1 3" stroke="#e8f6f8" stroke-width="0.6" fill="none"/><path d="M183.3 129.60000000000014 q1.5 -2 3 0 t-1 3" stroke="#e8f6f8" stroke-width="0.6" fill="none"/><path d="M183.3 137.60000000000014 q1.5 -2 3 0 t-1 3" stroke="#e8f6f8" stroke-width="0.6" fill="none"/><path d="M183.3 145.60000000000014 q1.5 -2 3 0 t-1 3" stroke="#e8f6f8" stroke-width="0.6" fill="none"/><path d="M183.3 153.60000000000014 q1.5 -2 3 0 t-1 3" stroke="#e8f6f8" stroke-width="0.6" fill="none"/><path d="M183.3 161.60000000000014 q1.5 -2 3 0 t-1 3" stroke="#e8f6f8" stroke-width="0.6" fill="none"/><path d="M192.2 86.89999999999986 q1.5 -2 3 0 t-1 3" stroke="#e8f6f8" stroke-width="0.6" fill="none"/><path d="M192.2 94.89999999999986 q1.5 -2 3 0 t-1 3" stroke="#e8f6f8" stroke-width="0.6" fill="none"/><path d="M192.2 102.89999999999986 q1.5 -2 3 0 t-1 3" stroke="#e8f6f8" stroke-width="0.6" fill="none"/><path d="M192.2 110.89999999999986 q1.5 -2 3 0 t-1 3" stroke="#e8f6f8" stroke-width="0.6" fill="none"/><path d="M192.2 118.89999999999986 q1.5 -2 3 0 t-1 3" stroke="#e8f6f8" stroke-width="0.6" fill="none"/><path d="M192.2 126.89999999999986 q1.5 -2 3 0 t-1 3" stroke="#e8f6f8" stroke-width="0.6" fill="none"/><path d="M192.2 134.89999999999986 q1.5 -2 3 0 t-1 3" stroke="#e8f6f8" stroke-width="0.6" fill="none"/><path d="M192.2 142.89999999999986 q1.5 -2 3 0 t-1 3" stroke="#e8f6f8" stroke-width="0.6" fill="none"/><path d="M192.2 150.89999999999986 q1.5 -2 3 0 t-1 3" stroke="#e8f6f8" stroke-width="0.6" fill="none"/><path d="M192.2 158.89999999999986 q1.5 -2 3 0 t-1 3" stroke="#e8f6f8" stroke-width="0.6" fill="none"/><path d="M204.0 89.5 q1.5 -2 3 0 t-1 3" stroke="#e8f6f8" stroke-width="0.6" fill="none"/><path d="M204.0 97.5 q1.5 -2 3 0 t-1 3" stroke="#e8f6f8" stroke-width="0.6" fill="none"/><path d="M204.0 105.5 q1.5 -2 3 0 t-1 3" stroke="#e8f6f8" stroke-width="0.6" fill="none"/><path d="M204.0 113.5 q1.5 -2 3 0 t-1 3" stroke="#e8f6f8" stroke-width="0.6" fill="none"/><path d="M204.0 121.5 q1.5 -2 3 0 t-1 3" stroke="#e8f6f8" stroke-width="0.6" fill="none"/><path d="M204.0 129.5 q1.5 -2 3 0 t-1 3" stroke="#e8f6f8" stroke-width="0.6" fill="none"/><path d="M204.0 137.5 q1.5 -2 3 0 t-1 3" stroke="#e8f6f8" stroke-width="0.6" fill="none"/><path d="M204.0 145.5 q1.5 -2 3 0 t-1 3" stroke="#e8f6f8" stroke-width="0.6" fill="none"/><path d="M204.0 153.5 q1.5 -2 3 0 t-1 3" stroke="#e8f6f8" stroke-width="0.6" fill="none"/><path d="M204.0 161.5 q1.5 -2 3 0 t-1 3" stroke="#e8f6f8" stroke-width="0.6" fill="none"/><path d="M216.8 89.10000000000014 q1.5 -2 3 0 t-1 3" stroke="#e8f6f8" stroke-width="0.6" fill="none"/><path d="M216.8 97.10000000000014 q1.5 -2 3 0 t-1 3" stroke="#e8f6f8" stroke-width="0.6" fill="none"/><path d="M216.8 105.10000000000014 q1.5 -2 3 0 t-1 3" stroke="#e8f6f8" stroke-width="0.6" fill="none"/><path d="M216.8 113.10000000000014 q1.5 -2 3 0 t-1 3" stroke="#e8f6f8" stroke-width="0.6" fill="none"/><path d="M216.8 121.10000000000014 q1.5 -2 3 0 t-1 3" stroke="#e8f6f8" stroke-width="0.6" fill="none"/><path d="M216.8 129.10000000000014 q1.5 -2 3 0 t-1 3" stroke="#e8f6f8" stroke-width="0.6" fill="none"/><path d="M216.8 137.10000000000014 q1.5 -2 3 0 t-1 3" stroke="#e8f6f8" stroke-width="0.6" fill="none"/><path d="M216.8 145.10000000000014 q1.5 -2 3 0 t-1 3" stroke="#e8f6f8" stroke-width="0.6" fill="none"/><path d="M216.8 153.10000000000014 q1.5 -2 3 0 t-1 3" stroke="#e8f6f8" stroke-width="0.6" fill="none"/><path d="M216.8 161.10000000000014 q1.5 -2 3 0 t-1 3" stroke="#e8f6f8" stroke-width="0.6" fill="none"/><path d="M231.3 90.60000000000014 q1.5 -2 3 0 t-1 3" stroke="#e8f6f8" stroke-width="0.6" fill="none"/><path d="M231.3 98.60000000000014 q1.5 -2 3 0 t-1 3" stroke="#e8f6f8" stroke-width="0.6" fill="none"/><path d="M231.3 106.60000000000014 q1.5 -2 3 0 t-1 3" stroke="#e8f6f8" stroke-width="0.6" fill="none"/><path d="M231.3 114.60000000000014 q1.5 -2 3 0 t-1 3" stroke="#e8f6f8" stroke-width="0.6" fill="none"/><path d="M231.3 122.60000000000014 q1.5 -2 3 0 t-1 3" stroke="#e8f6f8" stroke-width="0.6" fill="none"/><path d="M231.3 130.60000000000014 q1.5 -2 3 0 t-1 3" stroke="#e8f6f8" stroke-width="0.6" fill="none"/><path d="M231.3 138.60000000000014 q1.5 -2 3 0 t-1 3" stroke="#e8f6f8" stroke-width="0.6" fill="none"/><path d="M231.3 146.60000000000014 q1.5 -2 3 0 t-1 3" stroke="#e8f6f8" stroke-width="0.6" fill="none"/><path d="M231.3 154.60000000000014 q1.5 -2 3 0 t-1 3" stroke="#e8f6f8" stroke-width="0.6" fill="none"/><path d="M231.3 162.60000000000014 q1.5 -2 3 0 t-1 3" stroke="#e8f6f8" stroke-width="0.6" fill="none"/><path d="M178.5 86 q1.5 -2 3 0 t-1 3" stroke="#e8f6f8" stroke-width="0.6" fill="none"/><path d="M178.5 94 q1.5 -2 3 0 t-1 3" stroke="#e8f6f8" stroke-width="0.6" fill="none"/><path d="M178.5 102 q1.5 -2 3 0 t-1 3" stroke="#e8f6f8" stroke-width="0.6" fill="none"/><path d="M178.5 110 q1.5 -2 3 0 t-1 3" stroke="#e8f6f8" stroke-width="0.6" fill="none"/><path d="M178.5 118 q1.5 -2 3 0 t-1 3" stroke="#e8f6f8" stroke-width="0.6" fill="none"/><path d="M178.5 126 q1.5 -2 3 0 t-1 3" stroke="#e8f6f8" stroke-width="0.6" fill="none"/><path d="M178.5 134 q1.5 -2 3 0 t-1 3" stroke="#e8f6f8" stroke-width="0.6" fill="none"/><path d="M178.5 142 q1.5 -2 3 0 t-1 3" stroke="#e8f6f8" stroke-width="0.6" fill="none"/><path d="M178.5 150 q1.5 -2 3 0 t-1 3" stroke="#e8f6f8" stroke-width="0.6" fill="none"/><path d="M178.5 158 q1.5 -2 3 0 t-1 3" stroke="#e8f6f8" stroke-width="0.6" fill="none"/><path d="M188.0 87.5 q1.5 -2 3 0 t-1 3" stroke="#e8f6f8" stroke-width="0.6" fill="none"/><path d="M188.0 95.5 q1.5 -2 3 0 t-1 3" stroke="#e8f6f8" stroke-width="0.6" fill="none"/><path d="M188.0 103.5 q1.5 -2 3 0 t-1 3" stroke="#e8f6f8" stroke-width="0.6" fill="none"/><path d="M188.0 111.5 q1.5 -2 3 0 t-1 3" stroke="#e8f6f8" stroke-width="0.6" fill="none"/><path d="M188.0 119.5 q1.5 -2 3 0 t-1 3" stroke="#e8f6f8" stroke-width="0.6" fill="none"/><path d="M188.0 127.5 q1.5 -2 3 0 t-1 3" stroke="#e8f6f8" stroke-width="0.6" fill="none"/><path d="M188.0 135.5 q1.5 -2 3 0 t-1 3" stroke="#e8f6f8" stroke-width="0.6" fill="none"/><path d="M188.0 143.5 q1.5 -2 3 0 t-1 3" stroke="#e8f6f8" stroke-width="0.6" fill="none"/><path d="M188.0 151.5 q1.5 -2 3 0 t-1 3" stroke="#e8f6f8" stroke-width="0.6" fill="none"/><path d="M188.0 159.5 q1.5 -2 3 0 t-1 3" stroke="#e8f6f8" stroke-width="0.6" fill="none"/><path d="M198.0 87.5 q1.5 -2 3 0 t-1 3" stroke="#e8f6f8" stroke-width="0.6" fill="none"/><path d="M198.0 95.5 q1.5 -2 3 0 t-1 3" stroke="#e8f6f8" stroke-width="0.6" fill="none"/><path d="M198.0 103.5 q1.5 -2 3 0 t-1 3" stroke="#e8f6f8" stroke-width="0.6" fill="none"/><path d="M198.0 111.5 q1.5 -2 3 0 t-1 3" stroke="#e8f6f8" stroke-width="0.6" fill="none"/><path d="M198.0 119.5 q1.5 -2 3 0 t-1 3" stroke="#e8f6f8" stroke-width="0.6" fill="none"/><path d="M198.0 127.5 q1.5 -2 3 0 t-1 3" stroke="#e8f6f8" stroke-width="0.6" fill="none"/><path d="M198.0 135.5 q1.5 -2 3 0 t-1 3" stroke="#e8f6f8" stroke-width="0.6" fill="none"/><path d="M198.0 143.5 q1.5 -2 3 0 t-1 3" stroke="#e8f6f8" stroke-width="0.6" fill="none"/><path d="M198.0 151.5 q1.5 -2 3 0 t-1 3" stroke="#e8f6f8" stroke-width="0.6" fill="none"/><path d="M198.0 159.5 q1.5 -2 3 0 t-1 3" stroke="#e8f6f8" stroke-width="0.6" fill="none"/><path d="M210.0 86.5 q1.5 -2 3 0 t-1 3" stroke="#e8f6f8" stroke-width="0.6" fill="none"/><path d="M210.0 94.5 q1.5 -2 3 0 t-1 3" stroke="#e8f6f8" stroke-width="0.6" fill="none"/><path d="M210.0 102.5 q1.5 -2 3 0 t-1 3" stroke="#e8f6f8" stroke-width="0.6" fill="none"/><path d="M210.0 110.5 q1.5 -2 3 0 t-1 3" stroke="#e8f6f8" stroke-width="0.6" fill="none"/><path d="M210.0 118.5 q1.5 -2 3 0 t-1 3" stroke="#e8f6f8" stroke-width="0.6" fill="none"/><path d="M210.0 126.5 q1.5 -2 3 0 t-1 3" stroke="#e8f6f8" stroke-width="0.6" fill="none"/><path d="M210.0 134.5 q1.5 -2 3 0 t-1 3" stroke="#e8f6f8" stroke-width="0.6" fill="none"/><path d="M210.0 142.5 q1.5 -2 3 0 t-1 3" stroke="#e8f6f8" stroke-width="0.6" fill="none"/><path d="M210.0 150.5 q1.5 -2 3 0 t-1 3" stroke="#e8f6f8" stroke-width="0.6" fill="none"/><path d="M210.0 158.5 q1.5 -2 3 0 t-1 3" stroke="#e8f6f8" stroke-width="0.6" fill="none"/><path d="M223.5 86 q1.5 -2 3 0 t-1 3" stroke="#e8f6f8" stroke-width="0.6" fill="none"/><path d="M223.5 94 q1.5 -2 3 0 t-1 3" stroke="#e8f6f8" stroke-width="0.6" fill="none"/><path d="M223.5 102 q1.5 -2 3 0 t-1 3" stroke="#e8f6f8" stroke-width="0.6" fill="none"/><path d="M223.5 110 q1.5 -2 3 0 t-1 3" stroke="#e8f6f8" stroke-width="0.6" fill="none"/><path d="M223.5 118 q1.5 -2 3 0 t-1 3" stroke="#e8f6f8" stroke-width="0.6" fill="none"/><path d="M223.5 126 q1.5 -2 3 0 t-1 3" stroke="#e8f6f8" stroke-width="0.6" fill="none"/><path d="M223.5 134 q1.5 -2 3 0 t-1 3" stroke="#e8f6f8" stroke-width="0.6" fill="none"/><path d="M223.5 142 q1.5 -2 3 0 t-1 3" stroke="#e8f6f8" stroke-width="0.6" fill="none"/><path d="M223.5 150 q1.5 -2 3 0 t-1 3" stroke="#e8f6f8" stroke-width="0.6" fill="none"/><path d="M223.5 158 q1.5 -2 3 0 t-1 3" stroke="#e8f6f8" stroke-width="0.6" fill="none"/><path d="M238.5 86 q1.5 -2 3 0 t-1 3" stroke="#e8f6f8" stroke-width="0.6" fill="none"/><path d="M238.5 94 q1.5 -2 3 0 t-1 3" stroke="#e8f6f8" stroke-width="0.6" fill="none"/><path d="M238.5 102 q1.5 -2 3 0 t-1 3" stroke="#e8f6f8" stroke-width="0.6" fill="none"/><path d="M238.5 110 q1.5 -2 3 0 t-1 3" stroke="#e8f6f8" stroke-width="0.6" fill="none"/><path d="M238.5 118 q1.5 -2 3 0 t-1 3" stroke="#e8f6f8" stroke-width="0.6" fill="none"/><path d="M238.5 126 q1.5 -2 3 0 t-1 3" stroke="#e8f6f8" stroke-width="0.6" fill="none"/><path d="M238.5 134 q1.5 -2 3 0 t-1 3" stroke="#e8f6f8" stroke-width="0.6" fill="none"/><path d="M238.5 142 q1.5 -2 3 0 t-1 3" stroke="#e8f6f8" stroke-width="0.6" fill="none"/><path d="M238.5 150 q1.5 -2 3 0 t-1 3" stroke="#e8f6f8" stroke-width="0.6" fill="none"/><path d="M238.5 158 q1.5 -2 3 0 t-1 3" stroke="#e8f6f8" stroke-width="0.6" fill="none"/></g>
<path d="M169 79 H245.5 V93 H169 Z" fill="#8fb6e6" opacity="0.3"/>
<g clip-path="url(#cpArr2)" opacity="0.55"><path d="M178.4 87.6 q27.9 -1.2 55.8 0.3 t55.8 -0.3" stroke="#5a7fd0" stroke-width="1.5" fill="none" opacity="0.9"/><path d="M198.1 86.4 q27.5 -1.2 54.9 0.3 t54.9 -0.3" stroke="#6b90da" stroke-width="1.5" fill="none" opacity="0.9"/><path d="M52.6 91.2 q20.6 -1.2 41.1 0.3 t41.1 -0.3" stroke="#6b90da" stroke-width="1.2" fill="none" opacity="0.9"/><path d="M79.9 80.8 q26.5 -1.2 52.9 0.3 t52.9 -0.3" stroke="#c2e2f8" stroke-width="1.2" fill="none" opacity="0.9"/><path d="M183.1 91.4 q13.6 -1.2 27.2 0.3 t27.2 -0.3" stroke="#5f86d6" stroke-width="1.0" fill="none" opacity="0.9"/><path d="M55.3 87.5 q10.0 -1.2 20.1 0.3 t20.1 -0.3" stroke="#5f86d6" stroke-width="1.1" fill="none" opacity="0.9"/><path d="M226.5 82.3 q29.6 -1.2 59.3 0.3 t59.3 -0.3" stroke="#7d9fe0" stroke-width="1.2" fill="none" opacity="0.9"/><path d="M205.2 82.1 q24.1 -1.2 48.2 0.3 t48.2 -0.3" stroke="#6b90da" stroke-width="1.7" fill="none" opacity="0.9"/><path d="M223.3 88.5 q30.1 -1.2 60.2 0.3 t60.2 -0.3" stroke="#7d9fe0" stroke-width="0.9" fill="none" opacity="0.9"/><path d="M217.2 84.9 q15.9 -1.2 31.9 0.3 t31.9 -0.3" stroke="#7d9fe0" stroke-width="1.2" fill="none" opacity="0.9"/><path d="M30.7 87.3 q25.3 -1.2 50.5 0.3 t50.5 -0.3" stroke="#7d9fe0" stroke-width="1.0" fill="none" opacity="0.9"/><path d="M91.2 84.1 q25.7 -1.2 51.3 0.3 t51.3 -0.3" stroke="#6b90da" stroke-width="1.3" fill="none" opacity="0.9"/><path d="M41.4 88.7 q31.9 -1.2 63.9 0.3 t63.9 -0.3" stroke="#5f86d6" stroke-width="1.8" fill="none" opacity="0.9"/><path d="M110.9 84.1 q22.4 -1.2 44.7 0.3 t44.7 -0.3" stroke="#c2e2f8" stroke-width="1.2" fill="none" opacity="0.9"/><path d="M31.8 87.0 q11.1 -1.2 22.1 0.3 t22.1 -0.3" stroke="#6b90da" stroke-width="1.5" fill="none" opacity="0.9"/><path d="M53.8 91.9 q15.5 -1.2 31.1 0.3 t31.1 -0.3" stroke="#c2e2f8" stroke-width="1.2" fill="none" opacity="0.9"/><path d="M134.9 84.1 q27.5 -1.2 54.9 0.3 t54.9 -0.3" stroke="#5f86d6" stroke-width="1.4" fill="none" opacity="0.9"/><path d="M103.5 89.7 q16.7 -1.2 33.3 0.3 t33.3 -0.3" stroke="#c2e2f8" stroke-width="1.8" fill="none" opacity="0.9"/><path d="M98.1 80.7 q23.7 -1.2 47.5 0.3 t47.5 -0.3" stroke="#6b90da" stroke-width="1.2" fill="none" opacity="0.9"/><path d="M139.0 91.5 q17.0 -1.2 34.1 0.3 t34.1 -0.3" stroke="#7d9fe0" stroke-width="1.2" fill="none" opacity="0.9"/><path d="M155.4 89.9 q26.2 -1.2 52.5 0.3 t52.5 -0.3" stroke="#7d9fe0" stroke-width="1.8" fill="none" opacity="0.9"/><path d="M39.7 81.6 q32.2 -1.2 64.4 0.3 t64.4 -0.3" stroke="#b5dbf6" stroke-width="1.7" fill="none" opacity="0.9"/><path d="M178.1 79.9 q17.7 -1.2 35.5 0.3 t35.5 -0.3" stroke="#7d9fe0" stroke-width="1.3" fill="none" opacity="0.9"/><path d="M41.1 85.0 q30.6 -1.2 61.2 0.3 t61.2 -0.3" stroke="#5f86d6" stroke-width="1.6" fill="none" opacity="0.9"/><path d="M71.4 83.8 q32.1 -1.2 64.2 0.3 t64.2 -0.3" stroke="#b5dbf6" stroke-width="1.8" fill="none" opacity="0.9"/><path d="M187.6 87.7 q12.4 -1.2 24.8 0.3 t24.8 -0.3" stroke="#c2e2f8" stroke-width="1.2" fill="none" opacity="0.9"/></g>
<path d="M159 41 V88 A52.5 14 0 0 0 264 88 V41" fill="none" stroke="#707070" stroke-width="0.9"/>
<path d="M179 85 q4 -6 0 -12" stroke="#f5a623" stroke-width="1.6" fill="none"/><path d="M176.5 74.5 l2.5 -3.5 l2 4 z" fill="#f5a623"/>
<path d="M198 85 q4 -6 0 -12" stroke="#f5a623" stroke-width="1.6" fill="none"/><path d="M195.5 74.5 l2.5 -3.5 l2 4 z" fill="#f5a623"/>
<path d="M223 85 q4 -6 0 -12" stroke="#f5a623" stroke-width="1.6" fill="none"/><path d="M220.5 74.5 l2.5 -3.5 l2 4 z" fill="#f5a623"/>
<path d="M30.5 65.7 V48 Q30.5 31 47 31.2 L118.5 33" fill="none" stroke="#5e5e5e" stroke-width="1.25"/>
<path d="M118.3 25 V42" stroke="#555" stroke-width="1.1"/><path d="M123.8 29.5 V37.5" stroke="#555" stroke-width="1.5"/>
<path d="M124 33.3 L192 35 Q204.5 36 204.5 50 V65" fill="none" stroke="#5e5e5e" stroke-width="1.25"/>
<path d="M129.7 28.5 H140" stroke="#333" stroke-width="1"/><path d="M137 25.3 L145.2 28.5 L137 31.7 L138.5 28.5 Z" fill="#111"/>
<text x="151.00" y="31.80" font-size="11.3" fill="#222" text-anchor="start" stroke="#222" stroke-width="0.22" >e<tspan dy="-4" font-size="7.5">−</tspan></text>
<text x="42.80" y="77.00" font-size="10.5" fill="#222" text-anchor="start" stroke="#222" stroke-width="0.22" >O<tspan dy="2.5" font-size="7">2</tspan></text>
<text x="161.00" y="77.00" font-size="10.5" fill="#222" text-anchor="start" stroke="#222" stroke-width="0.22" >H<tspan dy="2.5" font-size="7">2</tspan></text>
<text x="190.30" y="49.20" font-size="10.4" fill="#e8353a" text-anchor="start" stroke="#e8353a" stroke-width="0.22" >H<tspan dy="2.5" font-size="7">2</tspan><tspan dy="-2.5"> collector</tspan></text>
<text x="82.30" y="114.50" font-size="9.5" fill="#333" text-anchor="start" stroke="#333" stroke-width="0.22" >H<tspan dy="2" font-size="6.5">2</tspan><tspan dy="-2">O</tspan></text>
<path d="M84 119.5 H97.5" stroke="#333" stroke-width="1"/><path d="M80.5 119.5 L88 116.3 L86.3 119.5 L88 122.7 Z" fill="#222"/>
<text x="147.50" y="114.50" font-size="9.5" fill="#333" text-anchor="start" stroke="#333" stroke-width="0.22" >H<tspan dy="-3.5" font-size="6">+</tspan></text>
<path d="M147.5 119.5 H160" stroke="#333" stroke-width="1"/><path d="M164.5 119.5 L157 116.3 L158.7 119.5 L157 122.7 Z" fill="#222"/>
<circle cx="66.5" cy="100.5" r="5.2" fill="#f7f8e4" fill-opacity="0.85" stroke="#fbfbe8" stroke-width="0.7"/><circle cx="65.7" cy="100.8" r="2.6" fill="#dfe9ee" opacity="0.6"/><circle cx="53.4" cy="105.4" r="5.5" fill="#f7f8e4" fill-opacity="0.85" stroke="#fbfbe8" stroke-width="0.7"/><circle cx="52.6" cy="105.7" r="2.8" fill="#dfe9ee" opacity="0.6"/><circle cx="48.5" cy="114.6" r="4.6" fill="#f7f8e4" fill-opacity="0.85" stroke="#fbfbe8" stroke-width="0.7"/><circle cx="47.8" cy="114.8" r="2.3" fill="#dfe9ee" opacity="0.6"/><circle cx="63.2" cy="114" r="4.6" fill="#f7f8e4" fill-opacity="0.85" stroke="#fbfbe8" stroke-width="0.7"/><circle cx="62.5" cy="114.2" r="2.3" fill="#dfe9ee" opacity="0.6"/><circle cx="56.2" cy="123" r="4.6" fill="#f7f8e4" fill-opacity="0.85" stroke="#fbfbe8" stroke-width="0.7"/><circle cx="55.5" cy="123.2" r="2.3" fill="#dfe9ee" opacity="0.6"/><circle cx="46.9" cy="129.4" r="3.7" fill="#f7f8e4" fill-opacity="0.85" stroke="#fbfbe8" stroke-width="0.7"/><circle cx="46.3" cy="129.6" r="1.9" fill="#dfe9ee" opacity="0.6"/><circle cx="58.3" cy="132.2" r="3" fill="#f7f8e4" fill-opacity="0.85" stroke="#fbfbe8" stroke-width="0.7"/><circle cx="57.8" cy="132.3" r="1.5" fill="#dfe9ee" opacity="0.6"/><circle cx="52.1" cy="135.5" r="3" fill="#f7f8e4" fill-opacity="0.85" stroke="#fbfbe8" stroke-width="0.7"/><circle cx="51.6" cy="135.7" r="1.5" fill="#dfe9ee" opacity="0.6"/><circle cx="47.8" cy="140.4" r="2.8" fill="#f7f8e4" fill-opacity="0.85" stroke="#fbfbe8" stroke-width="0.7"/><circle cx="47.4" cy="140.5" r="1.4" fill="#dfe9ee" opacity="0.6"/><circle cx="56.5" cy="140.2" r="2.8" fill="#f7f8e4" fill-opacity="0.85" stroke="#fbfbe8" stroke-width="0.7"/><circle cx="56.1" cy="140.3" r="1.4" fill="#dfe9ee" opacity="0.6"/><circle cx="52.1" cy="146" r="2" fill="#f7f8e4" fill-opacity="0.85" stroke="#fbfbe8" stroke-width="0.7"/><circle cx="51.8" cy="146.1" r="1.0" fill="#dfe9ee" opacity="0.6"/><circle cx="49.7" cy="150.9" r="2" fill="#f7f8e4" fill-opacity="0.85" stroke="#fbfbe8" stroke-width="0.7"/><circle cx="49.4" cy="151.0" r="1.0" fill="#dfe9ee" opacity="0.6"/><circle cx="52.5" cy="154.6" r="1.3" fill="#f7f8e4" fill-opacity="0.85" stroke="#fbfbe8" stroke-width="0.7"/><circle cx="52.3" cy="154.7" r="0.7" fill="#dfe9ee" opacity="0.6"/>
<text x="178.50" y="151.70" font-size="9.3" fill="#222" text-anchor="middle" stroke="#222" stroke-width="0.22" >SAL</text>
<text x="195.30" y="161.50" font-size="9.3" fill="#222" text-anchor="middle" stroke="#222" stroke-width="0.22" >Pt</text>
<text x="216.40" y="166.80" font-size="9.3" fill="#222" text-anchor="middle" stroke="#222" stroke-width="0.22" >SAL</text>
<path d="M188.5 149.0 L194.3 145.1" stroke="#e8282a" stroke-width="1.0"/><path d="M197.3 143.1 L195.4 146.8 L193.2 143.4 Z" fill="#e8282a"/><path d="M200.3 155.0 L203.1 148.3" stroke="#e8282a" stroke-width="1.0"/><path d="M204.5 145.0 L204.9 149.1 L201.3 147.5 Z" fill="#e8282a"/><path d="M214.6 157.5 L212.0 151.7" stroke="#e8282a" stroke-width="1.0"/><path d="M210.5 148.4 L213.8 150.9 L210.2 152.5 Z" fill="#e8282a"/>
<rect x="196.4" y="109.3" width="17.9" height="15.7" fill="none" stroke="#e8282a" stroke-width="1.4" stroke-dasharray="1.5 1.3"/>
<path d="M214.3 109.3 L302.9 25.1 M214.3 125 L302.9 167" stroke="#e8282a" stroke-width="1.4" stroke-dasharray="1.6 1.4" fill="none"/>
<defs>
<linearGradient id="gSide" x1="0" y1="0" x2="0" y2="1"><stop offset="0" stop-color="#f4faff"/><stop offset="0.45" stop-color="#9ad4f5"/><stop offset="1" stop-color="#55b5ee"/></linearGradient>
<radialGradient id="gGlow" cx="0.5" cy="0.5" r="0.5"><stop offset="0.6" stop-color="#a5d48c"/><stop offset="0.72" stop-color="#a5d48c" stop-opacity="0.75"/><stop offset="1" stop-color="#a5d48c" stop-opacity="0"/></radialGradient>
<radialGradient id="gBubDark" cx="0.5" cy="0.5" r="0.5"><stop offset="0" stop-color="#3a3a3a"/><stop offset="0.75" stop-color="#555"/><stop offset="1" stop-color="#cfcfcf"/></radialGradient>
<linearGradient id="gArrow" x1="0" y1="0" x2="1" y2="0"><stop offset="0" stop-color="#f7a8a4" stop-opacity="0.1"/><stop offset="1" stop-color="#ef5a55"/></linearGradient>
<radialGradient id="gGlow2" cx="0.5" cy="0.5" r="0.5"><stop offset="0" stop-color="#9fd488"/><stop offset="0.45" stop-color="#a5d48c" stop-opacity="0.8"/><stop offset="1" stop-color="#a5d48c" stop-opacity="0"/></radialGradient>
</defs>
<rect x="305.9" y="27.6" width="152.40000000000003" height="73.9" fill="#e3eed8"/>
<path d="M308.9 28.1 V101" stroke="#f2f7ec" stroke-width="2" opacity="0.6"/>
<path d="M333.9 28.1 V101" stroke="#f2f7ec" stroke-width="2" opacity="0.6"/>
<path d="M358.9 28.1 V101" stroke="#f2f7ec" stroke-width="2" opacity="0.6"/>
<path d="M383.9 28.1 V101" stroke="#f2f7ec" stroke-width="2" opacity="0.6"/>
<path d="M408.9 28.1 V101" stroke="#f2f7ec" stroke-width="2" opacity="0.6"/>
<path d="M433.9 28.1 V101" stroke="#f2f7ec" stroke-width="2" opacity="0.6"/>
<path d="M357.7 27.6 H407.5 V101.5 H357.7 Z" fill="#3b3b3b"/>
<path d="M356.7 27.6 q-1.2 10 0 20 q1.2 10 0 20 q-1.2 10 0 20 q1.2 10 0 16" stroke="#f7faf4" stroke-width="1.6" fill="none" opacity="0.9"/>
<path d="M408.5 27.6 q1.2 10 0 20 q-1.2 10 0 20 q1.2 10 0 20 q-1.2 10 0 16" stroke="#f7faf4" stroke-width="1.6" fill="none" opacity="0.9"/>
<rect x="305.9" y="101.3" width="152.40000000000003" height="1.8" fill="#5e5e5e"/>
<rect x="305.9" y="104.6" width="152.40000000000003" height="1.3" fill="#8a8a8a"/>
<rect x="305.9" y="106" width="152.40000000000003" height="55.30000000000001" fill="url(#gSide)"/>
<rect x="305.9" y="161.5" width="152.40000000000003" height="2.2" fill="#6e6e6e"/>
<rect x="302.9" y="25.1" width="157.90000000000003" height="141.70000000000002" fill="none" stroke="#e8282a" stroke-width="1.5" stroke-dasharray="1.6 1.2"/>
<rect x="535.6" y="27.3" width="152.19999999999993" height="74.2" fill="#e3eed8"/>
<path d="M538.6 27.8 V101" stroke="#f2f7ec" stroke-width="2" opacity="0.6"/>
<path d="M563.6 27.8 V101" stroke="#f2f7ec" stroke-width="2" opacity="0.6"/>
<path d="M588.6 27.8 V101" stroke="#f2f7ec" stroke-width="2" opacity="0.6"/>
<path d="M613.6 27.8 V101" stroke="#f2f7ec" stroke-width="2" opacity="0.6"/>
<path d="M638.6 27.8 V101" stroke="#f2f7ec" stroke-width="2" opacity="0.6"/>
<path d="M663.6 27.8 V101" stroke="#f2f7ec" stroke-width="2" opacity="0.6"/>
<path d="M586.6 27.3 H637.3 V101.5 H586.6 Z" fill="#3b3b3b"/>
<path d="M585.6 27.3 q-1.2 10 0 20 q1.2 10 0 20 q-1.2 10 0 20 q1.2 10 0 16" stroke="#f7faf4" stroke-width="1.6" fill="none" opacity="0.9"/>
<path d="M638.3 27.3 q1.2 10 0 20 q-1.2 10 0 20 q1.2 10 0 20 q-1.2 10 0 16" stroke="#f7faf4" stroke-width="1.6" fill="none" opacity="0.9"/>
<rect x="535.6" y="101.3" width="152.19999999999993" height="1.8" fill="#5e5e5e"/>
<rect x="535.6" y="104.6" width="152.19999999999993" height="1.3" fill="#8a8a8a"/>
<rect x="535.6" y="106" width="152.19999999999993" height="54.30000000000001" fill="url(#gSide)"/>
<rect x="535.6" y="160.5" width="152.19999999999993" height="2.2" fill="#6e6e6e"/>
<rect x="532.6" y="24.8" width="157.69999999999993" height="141.0" fill="none" stroke="#e8282a" stroke-width="1.5" stroke-dasharray="1.6 1.2"/>
<clipPath id="cpBed305"><rect x="305.5" y="140" width="52.5" height="21.5"/></clipPath>
<g clip-path="url(#cpBed305)"><path d="M305.5 161 V150 Q315.1 151.8 320.8 148.6 Q326.4 151.8 332.1 148.6 Q337.7 151.8 343.4 148.6 Q349.0 151.8 354.7 148.6 Q360.3 151.8 366.0 148.6 V161 Z" fill="#ffffff"/>
<g fill="#c0bc98" stroke="#8e8a62" stroke-width="0.5"><circle cx="297.8" cy="150.1" r="1.25"/><circle cx="296.0" cy="152.2" r="1.25"/><circle cx="300.2" cy="152.5" r="1.25"/><circle cx="294.8" cy="155.0" r="1.25"/><circle cx="297.8" cy="155.0" r="1.25"/><circle cx="301.4" cy="155.3" r="1.25"/><circle cx="293.5" cy="157.6" r="1.25"/><circle cx="296.9" cy="157.6" r="1.25"/><circle cx="299.7" cy="158.1" r="1.25"/><circle cx="303.0" cy="157.9" r="1.25"/><circle cx="295.1" cy="160.0" r="1.25"/><circle cx="298.1" cy="160.1" r="1.25"/><circle cx="301.0" cy="159.8" r="1.25"/><circle cx="303.9" cy="159.9" r="1.25"/><circle cx="309.4" cy="149.8" r="1.25"/><circle cx="308.0" cy="152.3" r="1.25"/><circle cx="311.4" cy="152.4" r="1.25"/><circle cx="306.6" cy="155.2" r="1.25"/><circle cx="309.5" cy="154.9" r="1.25"/><circle cx="312.7" cy="155.0" r="1.25"/><circle cx="305.0" cy="157.7" r="1.25"/><circle cx="308.2" cy="157.9" r="1.25"/><circle cx="311.2" cy="157.5" r="1.25"/><circle cx="314.0" cy="158.0" r="1.25"/><circle cx="306.0" cy="159.9" r="1.25"/><circle cx="309.8" cy="159.8" r="1.25"/><circle cx="312.6" cy="159.8" r="1.25"/><circle cx="314.9" cy="160.2" r="1.25"/><circle cx="321.1" cy="149.6" r="1.25"/><circle cx="319.0" cy="152.5" r="1.25"/><circle cx="322.8" cy="152.1" r="1.25"/><circle cx="317.5" cy="155.2" r="1.25"/><circle cx="320.7" cy="154.9" r="1.25"/><circle cx="324.0" cy="155.2" r="1.25"/><circle cx="315.8" cy="157.9" r="1.25"/><circle cx="319.5" cy="158.1" r="1.25"/><circle cx="322.7" cy="157.7" r="1.25"/><circle cx="325.5" cy="157.7" r="1.25"/><circle cx="317.4" cy="160.2" r="1.25"/><circle cx="320.5" cy="160.2" r="1.25"/><circle cx="324.1" cy="159.7" r="1.25"/><circle cx="326.5" cy="159.9" r="1.25"/><circle cx="331.9" cy="149.6" r="1.25"/><circle cx="330.2" cy="152.3" r="1.25"/><circle cx="334.1" cy="152.6" r="1.25"/><circle cx="329.2" cy="155.3" r="1.25"/><circle cx="332.3" cy="155.2" r="1.25"/><circle cx="335.3" cy="155.3" r="1.25"/><circle cx="327.4" cy="158.0" r="1.25"/><circle cx="330.3" cy="158.0" r="1.25"/><circle cx="333.6" cy="157.7" r="1.25"/><circle cx="337.0" cy="157.8" r="1.25"/><circle cx="328.9" cy="160.3" r="1.25"/><circle cx="331.8" cy="160.0" r="1.25"/><circle cx="335.2" cy="160.1" r="1.25"/><circle cx="337.8" cy="159.9" r="1.25"/><circle cx="343.6" cy="150.1" r="1.25"/><circle cx="341.5" cy="152.4" r="1.25"/><circle cx="345.1" cy="152.3" r="1.25"/><circle cx="340.3" cy="155.2" r="1.25"/><circle cx="343.6" cy="155.0" r="1.25"/><circle cx="346.6" cy="155.1" r="1.25"/><circle cx="338.5" cy="157.7" r="1.25"/><circle cx="341.6" cy="158.1" r="1.25"/><circle cx="344.6" cy="158.0" r="1.25"/><circle cx="348.3" cy="157.6" r="1.25"/><circle cx="340.1" cy="159.9" r="1.25"/><circle cx="343.1" cy="159.9" r="1.25"/><circle cx="346.7" cy="159.7" r="1.25"/><circle cx="348.6" cy="159.7" r="1.25"/><circle cx="354.6" cy="150.0" r="1.25"/><circle cx="352.6" cy="152.4" r="1.25"/><circle cx="356.6" cy="152.2" r="1.25"/><circle cx="351.2" cy="155.1" r="1.25"/><circle cx="354.4" cy="155.0" r="1.25"/><circle cx="357.8" cy="155.2" r="1.25"/><circle cx="349.8" cy="157.8" r="1.25"/><circle cx="352.8" cy="158.1" r="1.25"/><circle cx="356.6" cy="157.6" r="1.25"/><circle cx="359.7" cy="157.8" r="1.25"/><circle cx="351.9" cy="160.2" r="1.25"/><circle cx="355.0" cy="160.2" r="1.25"/><circle cx="357.6" cy="160.0" r="1.25"/><circle cx="360.2" cy="160.2" r="1.25"/><circle cx="366.3" cy="149.6" r="1.25"/><circle cx="364.6" cy="152.1" r="1.25"/><circle cx="367.7" cy="152.5" r="1.25"/><circle cx="362.9" cy="155.2" r="1.25"/><circle cx="366.0" cy="154.9" r="1.25"/><circle cx="369.4" cy="154.9" r="1.25"/><circle cx="361.3" cy="157.8" r="1.25"/><circle cx="364.3" cy="157.6" r="1.25"/><circle cx="367.3" cy="158.1" r="1.25"/><circle cx="370.9" cy="157.7" r="1.25"/><circle cx="362.5" cy="160.2" r="1.25"/><circle cx="365.8" cy="159.9" r="1.25"/><circle cx="369.3" cy="160.3" r="1.25"/><circle cx="371.5" cy="159.8" r="1.25"/></g></g>
<clipPath id="cpBed407"><rect x="407" y="140" width="51.19999999999999" height="21.5"/></clipPath>
<g clip-path="url(#cpBed407)"><path d="M407 161 V150 Q414.6 151.8 420.3 148.6 Q425.9 151.8 431.6 148.6 Q437.2 151.8 442.9 148.6 Q448.5 151.8 454.2 148.6 Q459.8 151.8 465.5 148.6 V161 Z" fill="#ffffff"/>
<g fill="#c0bc98" stroke="#8e8a62" stroke-width="0.5"><circle cx="397.6" cy="149.6" r="1.25"/><circle cx="395.6" cy="152.4" r="1.25"/><circle cx="399.3" cy="152.5" r="1.25"/><circle cx="394.1" cy="154.9" r="1.25"/><circle cx="398.0" cy="155.1" r="1.25"/><circle cx="400.7" cy="155.2" r="1.25"/><circle cx="393.0" cy="157.8" r="1.25"/><circle cx="395.7" cy="157.6" r="1.25"/><circle cx="399.6" cy="158.1" r="1.25"/><circle cx="402.2" cy="157.9" r="1.25"/><circle cx="394.1" cy="159.8" r="1.25"/><circle cx="397.4" cy="160.2" r="1.25"/><circle cx="401.3" cy="160.1" r="1.25"/><circle cx="403.1" cy="159.8" r="1.25"/><circle cx="409.2" cy="149.8" r="1.25"/><circle cx="407.6" cy="152.6" r="1.25"/><circle cx="410.5" cy="152.1" r="1.25"/><circle cx="406.2" cy="154.8" r="1.25"/><circle cx="409.4" cy="155.2" r="1.25"/><circle cx="412.4" cy="154.8" r="1.25"/><circle cx="404.0" cy="157.9" r="1.25"/><circle cx="407.1" cy="158.1" r="1.25"/><circle cx="410.3" cy="158.1" r="1.25"/><circle cx="413.6" cy="158.1" r="1.25"/><circle cx="405.8" cy="159.8" r="1.25"/><circle cx="408.9" cy="160.3" r="1.25"/><circle cx="412.1" cy="159.7" r="1.25"/><circle cx="414.8" cy="159.8" r="1.25"/><circle cx="420.5" cy="149.7" r="1.25"/><circle cx="418.3" cy="152.4" r="1.25"/><circle cx="422.2" cy="152.1" r="1.25"/><circle cx="417.3" cy="154.9" r="1.25"/><circle cx="420.2" cy="155.2" r="1.25"/><circle cx="423.4" cy="154.9" r="1.25"/><circle cx="415.2" cy="157.6" r="1.25"/><circle cx="418.7" cy="157.5" r="1.25"/><circle cx="421.8" cy="157.8" r="1.25"/><circle cx="424.8" cy="157.7" r="1.25"/><circle cx="417.0" cy="160.0" r="1.25"/><circle cx="420.3" cy="159.9" r="1.25"/><circle cx="423.8" cy="159.7" r="1.25"/><circle cx="425.7" cy="159.9" r="1.25"/><circle cx="431.9" cy="150.0" r="1.25"/><circle cx="429.8" cy="152.6" r="1.25"/><circle cx="433.0" cy="152.4" r="1.25"/><circle cx="428.2" cy="155.3" r="1.25"/><circle cx="431.2" cy="155.1" r="1.25"/><circle cx="434.7" cy="155.1" r="1.25"/><circle cx="426.6" cy="158.0" r="1.25"/><circle cx="430.3" cy="157.8" r="1.25"/><circle cx="432.9" cy="158.1" r="1.25"/><circle cx="436.5" cy="157.5" r="1.25"/><circle cx="428.1" cy="159.8" r="1.25"/><circle cx="431.9" cy="159.7" r="1.25"/><circle cx="434.6" cy="160.0" r="1.25"/><circle cx="437.5" cy="160.1" r="1.25"/><circle cx="442.5" cy="149.8" r="1.25"/><circle cx="440.9" cy="152.3" r="1.25"/><circle cx="444.6" cy="152.2" r="1.25"/><circle cx="439.4" cy="154.8" r="1.25"/><circle cx="443.0" cy="154.8" r="1.25"/><circle cx="446.3" cy="154.8" r="1.25"/><circle cx="438.3" cy="157.9" r="1.25"/><circle cx="441.0" cy="158.1" r="1.25"/><circle cx="444.5" cy="157.6" r="1.25"/><circle cx="447.6" cy="157.5" r="1.25"/><circle cx="439.5" cy="159.9" r="1.25"/><circle cx="442.6" cy="160.0" r="1.25"/><circle cx="446.0" cy="159.9" r="1.25"/><circle cx="448.3" cy="160.1" r="1.25"/><circle cx="454.6" cy="150.1" r="1.25"/><circle cx="452.6" cy="152.6" r="1.25"/><circle cx="456.0" cy="152.6" r="1.25"/><circle cx="450.7" cy="154.8" r="1.25"/><circle cx="454.3" cy="154.9" r="1.25"/><circle cx="457.3" cy="155.2" r="1.25"/><circle cx="449.4" cy="158.0" r="1.25"/><circle cx="452.3" cy="157.9" r="1.25"/><circle cx="456.2" cy="157.7" r="1.25"/><circle cx="459.1" cy="157.9" r="1.25"/><circle cx="451.1" cy="160.2" r="1.25"/><circle cx="454.1" cy="160.1" r="1.25"/><circle cx="457.2" cy="160.0" r="1.25"/><circle cx="459.9" cy="159.8" r="1.25"/><circle cx="465.7" cy="149.6" r="1.25"/><circle cx="463.3" cy="152.3" r="1.25"/><circle cx="467.1" cy="152.3" r="1.25"/><circle cx="462.6" cy="155.0" r="1.25"/><circle cx="465.2" cy="155.0" r="1.25"/><circle cx="469.0" cy="155.1" r="1.25"/><circle cx="460.5" cy="157.6" r="1.25"/><circle cx="463.7" cy="158.0" r="1.25"/><circle cx="467.5" cy="158.0" r="1.25"/><circle cx="470.0" cy="157.6" r="1.25"/><circle cx="462.2" cy="159.9" r="1.25"/><circle cx="465.8" cy="160.0" r="1.25"/><circle cx="468.5" cy="160.1" r="1.25"/><circle cx="471.2" cy="160.0" r="1.25"/></g></g>
<clipPath id="cpSideB"><rect x="305.5" y="106" width="152.7" height="55.5"/></clipPath>
<g clip-path="url(#cpSideB)"><circle cx="382.6" cy="152.2" r="24" fill="url(#gGlow)"/><circle cx="382.6" cy="152.2" r="15.8" fill="#fff"/></g>
<text x="376.00" y="156.80" font-size="13" fill="#333" text-anchor="start" stroke="#333" stroke-width="0.22" >H<tspan dy="3" font-size="9">2</tspan></text>
<circle cx="382.1" cy="75.2" r="17" fill="url(#gBubDark)"/>
<circle cx="382.1" cy="75.2" r="16.5" fill="none" stroke="#c8c8c8" stroke-width="1"/>
<circle cx="379.3" cy="68.3" r="4" fill="#fff" opacity="0.35"/><circle cx="379.3" cy="68.3" r="2.9" fill="#fff"/><circle cx="391" cy="85.5" r="1.5" fill="#fff"/>
<text x="374.50" y="84.00" font-size="13" fill="#f4f4f4" text-anchor="start" stroke="#f4f4f4" stroke-width="0.22" >H<tspan dy="3" font-size="9">2</tspan></text>
<text x="382.20" y="38.30" font-size="9" fill="#e6e6e6" text-anchor="middle" stroke="#e6e6e6" stroke-width="0.1" >Pt</text>
<text x="331.00" y="53.00" font-size="9.6" fill="#2a2a2a" text-anchor="middle" stroke="#2a2a2a" stroke-width="0.22" >SAL</text>
<text x="331.00" y="64.00" font-size="9.6" fill="#2a2a2a" text-anchor="middle" stroke="#2a2a2a" stroke-width="0.22" >stripe</text>
<text x="411.50" y="39.00" font-size="9.4" fill="#222" text-anchor="start" stroke="#222" stroke-width="0.22" >Front view</text>
<text x="410.50" y="92.50" font-size="9" fill="#222" text-anchor="start" stroke="#222" stroke-width="0.22" >H<tspan dy="2.5" font-size="6.5">2</tspan><tspan dy="-2.5"> diffusing</tspan></text>
<text x="413.50" y="120.00" font-size="9.1" fill="#222" text-anchor="start" stroke="#222" stroke-width="0.22" >Side view</text>
<text x="306.50" y="134.00" font-size="9.4" fill="#333" text-anchor="start" stroke="#333" stroke-width="0.22" >Gas cushion</text>
<path d="M330 136 V144" stroke="#111" stroke-width="0.9"/><path d="M327.5 143 L330 148 L332.5 143 Z" fill="#111"/>
<text x="411.50" y="139.50" font-size="9" fill="#222" text-anchor="start" stroke="#222" stroke-width="0.22" >H<tspan dy="2.5" font-size="6.5">2</tspan><tspan dy="-2.5"> diffusing</tspan></text>
<path d="M362.5 77.5 Q356 72.5 350.5 78" stroke="#6aa35a" stroke-width="1.3" fill="none"/><path d="M347 81.5 L348.3 75.8 L352.8 79.2 Z" fill="#6aa35a"/>
<path d="M400.5 77.5 Q407 72.5 412.5 78" stroke="#6aa35a" stroke-width="1.3" fill="none"/><path d="M416 81.5 L414.7 75.8 L410.2 79.2 Z" fill="#6aa35a"/>
<path d="M358.5 142.5 q-7 -3 -11 2" stroke="#b5c98a" stroke-width="1.3" fill="none"/><path d="M344.5 147.5 l0.8 -4.5 l3.8 2.2 z" fill="#7aa060"/>
<path d="M404 143 q7 -3 11 2" stroke="#b5c98a" stroke-width="1.3" fill="none"/><path d="M418 147.5 l-0.8 -4.5 l-3.8 2.2 z" fill="#7aa060"/>
<text x="380.70" y="10.00" font-size="9.3" fill="#555" text-anchor="middle" stroke="#555" stroke-width="0.22" >Noncontacted bubble:</text>
<text x="379.20" y="20.50" font-size="9.3" fill="#e35b4a" text-anchor="middle" stroke="#e35b4a" stroke-width="0.22" >H<tspan dy="2" font-size="6.5">2</tspan><tspan dy="-2"> diffusion</tspan></text>
<path d="M474.4 94 L500 96.5 L500 91.1 L518.4 100 L500 108.3 L500 103.3 L474.4 105 L480.7 99.7 Z" fill="url(#gArrow)"/>
<text x="611.00" y="10.00" font-size="9.3" fill="#555" text-anchor="middle" stroke="#555" stroke-width="0.22" >Contacted bubble:</text>
<text x="611.00" y="20.50" font-size="9.3" fill="#e35b4a" text-anchor="middle" stroke="#e35b4a" stroke-width="0.22" >Bubble transfer</text>
<path d="M586.6 68 Q584 74 590 74" stroke="#dfe5da" stroke-width="1.6" fill="none" opacity="0.75"/>
<path d="M586.6 94 Q584 88 590 88" stroke="#dfe5da" stroke-width="1.6" fill="none" opacity="0.75"/>
<path d="M586 90 q-4 3 -8 8 M586 92 q-2 3 -5 8" stroke="#f0f3ec" stroke-width="0.8" fill="none" opacity="0.8"/>
<circle cx="599" cy="80.8" r="11.6" fill="url(#gBubDark)"/>
<path d="M603.5 69.8 A11.8 11.8 0 0 1 603.5 91.8" stroke="#e6d720" stroke-width="1.1" stroke-dasharray="6 1" fill="none"/>
<circle cx="596" cy="85.5" r="3.6" fill="#fff" opacity="0.35"/><circle cx="596" cy="85.5" r="2.6" fill="#fff"/><circle cx="604.3" cy="73.5" r="1.1" fill="#fff"/>
<path d="M610.5 80.8 H602" stroke="#e6d720" stroke-width="1"/><path d="M598.5 80.8 L603.5 78.3 L603.5 83.3 Z" fill="#e6d720"/>
<text x="612.80" y="85.00" font-size="9.6" fill="#e6d720" text-anchor="start" stroke="#e6d720" stroke-width="0.1" >Δ<tspan font-style="italic">p</tspan></text>
<text x="589.80" y="63.80" font-size="13" fill="#f8f8f8" text-anchor="start" stroke="#f8f8f8" stroke-width="0.1" >H<tspan dy="3" font-size="8.5">2</tspan></text>
<text x="611.80" y="38.30" font-size="9" fill="#e6e6e6" text-anchor="middle" stroke="#e6e6e6" stroke-width="0.1" >Pt</text>
<text x="643.00" y="39.00" font-size="9.4" fill="#222" text-anchor="start" stroke="#222" stroke-width="0.22" >Front view</text>
<text x="545.50" y="81.00" font-size="9.3" fill="#222" text-anchor="start" stroke="#222" stroke-width="0.22" >Transfer</text>
<path d="M572 87 H583" stroke="#444" stroke-width="1"/><path d="M569 87 l4.5 -2.2 v4.4 z" fill="#222"/>
<ellipse cx="563.5" cy="47.5" rx="12" ry="14" fill="none" stroke="#f4f8ef" stroke-width="1.3" opacity="0.9"/>
<path d="M563.5 53 V42" stroke="#222" stroke-width="0.9"/><path d="M561.3 43 L563.5 38.5 L565.7 43 Z" fill="#222"/>
<clipPath id="cpSideC"><rect x="535.6" y="106" width="152.2" height="55.5"/></clipPath>
<g clip-path="url(#cpSideC)"><ellipse cx="615" cy="146" rx="20" ry="27" fill="url(#gGlow2)" opacity="0.85"/></g>
<path d="M535.6 146.5 Q545 144.5 560 144.3 Q580 144.5 592 147.5 V161 H535.6 Z" fill="#fff"/>
<clipPath id="cpBed535"><rect x="535.6" y="140" width="53.39999999999998" height="21.5"/></clipPath>
<g clip-path="url(#cpBed535)"><path d="M535.6 161 V150 Q542.2 151.8 547.9 148.6 Q553.5 151.8 559.2 148.6 Q564.8 151.8 570.5 148.6 Q576.1 151.8 581.8 148.6 Q587.4 151.8 593.1 148.6 V161 Z" fill="#ffffff"/>
<g fill="#c0bc98" stroke="#8e8a62" stroke-width="0.5"><circle cx="524.9" cy="149.7" r="1.25"/><circle cx="523.8" cy="152.4" r="1.25"/><circle cx="527.0" cy="152.1" r="1.25"/><circle cx="521.8" cy="155.3" r="1.25"/><circle cx="525.7" cy="154.9" r="1.25"/><circle cx="528.1" cy="154.7" r="1.25"/><circle cx="520.8" cy="157.7" r="1.25"/><circle cx="523.8" cy="157.7" r="1.25"/><circle cx="527.2" cy="157.5" r="1.25"/><circle cx="530.0" cy="157.6" r="1.25"/><circle cx="521.8" cy="159.9" r="1.25"/><circle cx="525.2" cy="160.3" r="1.25"/><circle cx="528.3" cy="159.9" r="1.25"/><circle cx="530.6" cy="159.9" r="1.25"/><circle cx="536.8" cy="149.6" r="1.25"/><circle cx="534.6" cy="152.0" r="1.25"/><circle cx="538.7" cy="152.2" r="1.25"/><circle cx="533.4" cy="155.1" r="1.25"/><circle cx="536.9" cy="155.0" r="1.25"/><circle cx="539.4" cy="154.8" r="1.25"/><circle cx="531.6" cy="157.6" r="1.25"/><circle cx="534.7" cy="157.6" r="1.25"/><circle cx="538.0" cy="157.7" r="1.25"/><circle cx="541.6" cy="157.9" r="1.25"/><circle cx="533.7" cy="160.3" r="1.25"/><circle cx="536.6" cy="159.8" r="1.25"/><circle cx="540.0" cy="160.0" r="1.25"/><circle cx="541.8" cy="159.7" r="1.25"/><circle cx="547.6" cy="149.9" r="1.25"/><circle cx="546.5" cy="152.3" r="1.25"/><circle cx="549.8" cy="152.2" r="1.25"/><circle cx="544.8" cy="155.0" r="1.25"/><circle cx="547.6" cy="155.3" r="1.25"/><circle cx="550.7" cy="155.0" r="1.25"/><circle cx="542.8" cy="158.1" r="1.25"/><circle cx="546.6" cy="157.7" r="1.25"/><circle cx="549.8" cy="158.0" r="1.25"/><circle cx="552.5" cy="158.0" r="1.25"/><circle cx="544.7" cy="159.8" r="1.25"/><circle cx="548.0" cy="160.2" r="1.25"/><circle cx="551.1" cy="159.8" r="1.25"/><circle cx="553.7" cy="160.3" r="1.25"/><circle cx="559.4" cy="150.0" r="1.25"/><circle cx="557.5" cy="152.6" r="1.25"/><circle cx="561.1" cy="152.5" r="1.25"/><circle cx="555.6" cy="155.1" r="1.25"/><circle cx="558.8" cy="154.7" r="1.25"/><circle cx="562.2" cy="154.9" r="1.25"/><circle cx="554.4" cy="157.8" r="1.25"/><circle cx="557.2" cy="157.8" r="1.25"/><circle cx="560.7" cy="157.8" r="1.25"/><circle cx="563.7" cy="158.0" r="1.25"/><circle cx="556.0" cy="160.3" r="1.25"/><circle cx="559.0" cy="160.1" r="1.25"/><circle cx="562.5" cy="159.8" r="1.25"/><circle cx="564.4" cy="160.2" r="1.25"/><circle cx="570.4" cy="149.7" r="1.25"/><circle cx="568.6" cy="152.3" r="1.25"/><circle cx="572.5" cy="152.6" r="1.25"/><circle cx="567.2" cy="154.8" r="1.25"/><circle cx="570.5" cy="155.1" r="1.25"/><circle cx="573.5" cy="154.8" r="1.25"/><circle cx="565.7" cy="157.7" r="1.25"/><circle cx="568.9" cy="157.9" r="1.25"/><circle cx="571.7" cy="157.8" r="1.25"/><circle cx="575.5" cy="157.8" r="1.25"/><circle cx="567.5" cy="160.1" r="1.25"/><circle cx="570.1" cy="160.3" r="1.25"/><circle cx="574.0" cy="160.3" r="1.25"/><circle cx="575.9" cy="160.3" r="1.25"/><circle cx="581.8" cy="149.7" r="1.25"/><circle cx="580.3" cy="152.5" r="1.25"/><circle cx="583.6" cy="152.5" r="1.25"/><circle cx="578.8" cy="155.0" r="1.25"/><circle cx="581.5" cy="155.2" r="1.25"/><circle cx="584.9" cy="154.8" r="1.25"/><circle cx="577.0" cy="157.6" r="1.25"/><circle cx="580.1" cy="157.6" r="1.25"/><circle cx="583.1" cy="157.6" r="1.25"/><circle cx="586.4" cy="158.1" r="1.25"/><circle cx="578.9" cy="160.2" r="1.25"/><circle cx="581.9" cy="160.2" r="1.25"/><circle cx="585.3" cy="160.1" r="1.25"/><circle cx="587.5" cy="160.1" r="1.25"/><circle cx="593.3" cy="149.9" r="1.25"/><circle cx="591.4" cy="152.2" r="1.25"/><circle cx="594.6" cy="152.3" r="1.25"/><circle cx="589.7" cy="155.3" r="1.25"/><circle cx="593.4" cy="154.9" r="1.25"/><circle cx="596.3" cy="155.1" r="1.25"/><circle cx="587.9" cy="157.5" r="1.25"/><circle cx="591.5" cy="157.8" r="1.25"/><circle cx="595.1" cy="157.5" r="1.25"/><circle cx="597.6" cy="158.0" r="1.25"/><circle cx="589.9" cy="160.0" r="1.25"/><circle cx="592.9" cy="160.2" r="1.25"/><circle cx="596.3" cy="159.9" r="1.25"/><circle cx="599.0" cy="159.9" r="1.25"/></g></g>
<clipPath id="cpBed638"><rect x="638" y="140" width="49.799999999999955" height="21.5"/></clipPath>
<g clip-path="url(#cpBed638)"><path d="M638 161 V150 Q646.6 151.8 652.3 148.6 Q657.9 151.8 663.6 148.6 Q669.2 151.8 674.9 148.6 Q680.5 151.8 686.2 148.6 Q691.8 151.8 697.5 148.6 V161 Z" fill="#ffffff"/>
<g fill="#c0bc98" stroke="#8e8a62" stroke-width="0.5"><circle cx="629.6" cy="149.6" r="1.25"/><circle cx="627.9" cy="152.4" r="1.25"/><circle cx="631.2" cy="152.5" r="1.25"/><circle cx="626.3" cy="154.9" r="1.25"/><circle cx="629.5" cy="154.9" r="1.25"/><circle cx="632.7" cy="154.9" r="1.25"/><circle cx="625.2" cy="158.1" r="1.25"/><circle cx="628.2" cy="158.0" r="1.25"/><circle cx="631.2" cy="157.7" r="1.25"/><circle cx="634.6" cy="157.9" r="1.25"/><circle cx="626.4" cy="160.0" r="1.25"/><circle cx="629.4" cy="160.2" r="1.25"/><circle cx="632.7" cy="160.2" r="1.25"/><circle cx="635.7" cy="159.9" r="1.25"/><circle cx="641.3" cy="149.9" r="1.25"/><circle cx="639.6" cy="152.4" r="1.25"/><circle cx="642.5" cy="152.4" r="1.25"/><circle cx="637.5" cy="154.9" r="1.25"/><circle cx="640.6" cy="154.7" r="1.25"/><circle cx="644.2" cy="155.0" r="1.25"/><circle cx="636.1" cy="158.0" r="1.25"/><circle cx="639.5" cy="157.8" r="1.25"/><circle cx="642.6" cy="157.9" r="1.25"/><circle cx="646.1" cy="157.7" r="1.25"/><circle cx="637.7" cy="159.7" r="1.25"/><circle cx="640.9" cy="160.2" r="1.25"/><circle cx="643.9" cy="160.2" r="1.25"/><circle cx="646.8" cy="160.2" r="1.25"/><circle cx="652.3" cy="149.9" r="1.25"/><circle cx="650.1" cy="152.2" r="1.25"/><circle cx="654.5" cy="152.4" r="1.25"/><circle cx="648.9" cy="154.8" r="1.25"/><circle cx="652.2" cy="155.0" r="1.25"/><circle cx="655.2" cy="155.2" r="1.25"/><circle cx="647.3" cy="157.8" r="1.25"/><circle cx="650.3" cy="158.0" r="1.25"/><circle cx="653.7" cy="158.1" r="1.25"/><circle cx="657.3" cy="157.6" r="1.25"/><circle cx="649.2" cy="160.1" r="1.25"/><circle cx="652.7" cy="160.2" r="1.25"/><circle cx="655.8" cy="159.8" r="1.25"/><circle cx="657.5" cy="159.9" r="1.25"/><circle cx="663.8" cy="149.9" r="1.25"/><circle cx="662.1" cy="152.1" r="1.25"/><circle cx="665.7" cy="152.1" r="1.25"/><circle cx="660.7" cy="154.7" r="1.25"/><circle cx="664.0" cy="155.3" r="1.25"/><circle cx="667.1" cy="154.9" r="1.25"/><circle cx="658.5" cy="158.0" r="1.25"/><circle cx="661.8" cy="157.8" r="1.25"/><circle cx="665.1" cy="157.8" r="1.25"/><circle cx="668.8" cy="158.1" r="1.25"/><circle cx="660.5" cy="160.1" r="1.25"/><circle cx="663.8" cy="159.7" r="1.25"/><circle cx="666.7" cy="159.7" r="1.25"/><circle cx="669.1" cy="159.8" r="1.25"/><circle cx="675.0" cy="149.9" r="1.25"/><circle cx="672.9" cy="152.0" r="1.25"/><circle cx="676.5" cy="152.5" r="1.25"/><circle cx="671.6" cy="154.9" r="1.25"/><circle cx="675.2" cy="155.2" r="1.25"/><circle cx="678.0" cy="154.8" r="1.25"/><circle cx="670.1" cy="157.8" r="1.25"/><circle cx="673.1" cy="158.0" r="1.25"/><circle cx="676.5" cy="157.8" r="1.25"/><circle cx="679.5" cy="158.0" r="1.25"/><circle cx="671.9" cy="159.8" r="1.25"/><circle cx="674.6" cy="160.2" r="1.25"/><circle cx="678.1" cy="160.0" r="1.25"/><circle cx="680.5" cy="159.8" r="1.25"/><circle cx="686.2" cy="149.8" r="1.25"/><circle cx="684.5" cy="152.2" r="1.25"/><circle cx="688.2" cy="152.5" r="1.25"/><circle cx="682.9" cy="155.0" r="1.25"/><circle cx="686.0" cy="154.8" r="1.25"/><circle cx="689.3" cy="154.9" r="1.25"/><circle cx="681.1" cy="157.9" r="1.25"/><circle cx="684.8" cy="157.9" r="1.25"/><circle cx="687.9" cy="157.7" r="1.25"/><circle cx="690.8" cy="157.8" r="1.25"/><circle cx="683.2" cy="159.8" r="1.25"/><circle cx="686.3" cy="159.9" r="1.25"/><circle cx="689.7" cy="160.1" r="1.25"/><circle cx="692.2" cy="159.9" r="1.25"/><circle cx="697.6" cy="150.0" r="1.25"/><circle cx="695.5" cy="152.4" r="1.25"/><circle cx="699.0" cy="152.4" r="1.25"/><circle cx="694.3" cy="155.2" r="1.25"/><circle cx="697.9" cy="154.8" r="1.25"/><circle cx="700.9" cy="155.2" r="1.25"/><circle cx="693.1" cy="158.0" r="1.25"/><circle cx="696.1" cy="157.6" r="1.25"/><circle cx="699.2" cy="157.8" r="1.25"/><circle cx="702.4" cy="157.6" r="1.25"/><circle cx="694.3" cy="160.3" r="1.25"/><circle cx="697.2" cy="160.3" r="1.25"/><circle cx="701.0" cy="159.9" r="1.25"/><circle cx="702.8" cy="160.1" r="1.25"/></g></g>
<g clip-path="url(#cpSideC)"><circle cx="603" cy="150.4" r="12.6" fill="#fff"/><circle cx="634.4" cy="160" r="4.8" fill="#fff"/></g>
<path d="M630 160 q3 -6 8 -5 V160 Z" fill="#fff"/>
<text x="596.00" y="151.30" font-size="12" fill="#333" text-anchor="start" stroke="#333" stroke-width="0.1" >H<tspan dy="2.5" font-size="8">2</tspan></text>
<path d="M612.5 150 V156.2 H596" stroke="#222" stroke-width="0.9" fill="none"/><path d="M592.5 156.2 l4.2 -2.1 v4.2 z" fill="#222"/>
<path d="M632 158.5 l3.5 -2" stroke="#222" stroke-width="0.7"/><path d="M636.5 155.8 l-2.2 0.2 l1 1.5 z" fill="#222"/>
<text x="643.00" y="119.50" font-size="9.1" fill="#222" text-anchor="start" stroke="#222" stroke-width="0.22" >Side view</text>
<text x="541.50" y="133.00" font-size="9.3" fill="#222" text-anchor="start" stroke="#222" stroke-width="0.22" >Bubble transfer</text>
<rect x="220.7" y="182.5" width="21.3" height="10" fill="#e2eec9"/>
<text x="250.00" y="191.30" font-size="10.1" fill="#444" text-anchor="start" stroke="#444" stroke-width="0.22" >Superaerophilic (SAL) stripes</text>
<g fill="#b2ad86" stroke="#7d7a5a" stroke-width="0.5"><circle cx="403" cy="182" r="1.5"/><circle cx="400.5" cy="184.5" r="1.5"/><circle cx="403.5" cy="187" r="1.5"/><circle cx="400.5" cy="189.5" r="1.5"/><circle cx="402.5" cy="192" r="1.5"/></g>
<text x="413.00" y="191.30" font-size="10.1" fill="#444" text-anchor="start" stroke="#444" stroke-width="0.22" >SAL SiO<tspan dy="2.5" font-size="7">2</tspan><tspan dy="-2.5"> nanoparticles</tspan></text>
<rect x="541" y="182.5" width="22" height="10" fill="#7a7a7a"/>
<text x="570.00" y="191.30" font-size="10.1" fill="#444" text-anchor="start" stroke="#444" stroke-width="0.22" >Pt</text>
<rect x="604" y="182.5" width="21" height="10" fill="#6cc8f6"/>
<text x="634.00" y="191.30" font-size="10.1" fill="#444" text-anchor="start" stroke="#444" stroke-width="0.22" >Electrolyte</text>
<path d="M43.8 224.8 V347.9 M50.4 224.8 V348.3 M64.8 224.8 V335 M77.4 224.8 V335 M89.4 224.8 V333 M93.6 224.8 V333 M115.7 224.8 V333 M137.9 224.8 V333 M160.7 224.8 V333 M185 224.8 V333 M43.8 224.8 L194.3 226 M43.8 229.5 L194.3 230 M43.8 238.6 L194.3 238.3 M43.8 283 L92.9 274 L194.3 277.5 M44.9 347.7 L92.9 329.5 L194.3 333.3 M74.4 350.2 L118.2 330.4 M103.9 352.8 L143.6 331.4 M133.4 355.3 L169.0 332.4 M60.7 341.7 L173.3 349.8 M76.6 335.7 L183.6 341.7" stroke="#d6d6d6" stroke-width="0.8" fill="none"/>
<path d="M44.3 315.1 L91.7 300.9 L191.4 305.7 L162.9 322.9 Z" fill="#ececec" fill-opacity="0.55" stroke="#cfcfcf" stroke-width="0.8"/>
<path d="M74.0 317.1 L116.6 302.1 M103.6 319.0 L141.6 303.3 M133.2 320.9 L166.5 304.5 M59.9 310.4 L172.3 317.2 M75.6 305.7 L181.7 311.5" stroke="#d4d4d4" stroke-width="0.6" fill="none"/>
<path d="M194.3 225 V333.3" stroke="#555" stroke-width="0.9"/>
<path d="M194.3 230 h2.5" stroke="#555" stroke-width="0.8"/>
<text x="197.30" y="232.90" font-size="8.3" fill="#333" text-anchor="start" stroke="#333" stroke-width="0.22" >1000</text>
<path d="M194.3 238.3 h2.5" stroke="#555" stroke-width="0.8"/>
<text x="197.30" y="241.20" font-size="8.3" fill="#333" text-anchor="start" stroke="#333" stroke-width="0.22" >950</text>
<path d="M194.3 278.6 h2.5" stroke="#555" stroke-width="0.8"/>
<text x="197.30" y="281.50" font-size="8.3" fill="#333" text-anchor="start" stroke="#333" stroke-width="0.22" >100</text>
<path d="M194.3 307.1 h2.5" stroke="#555" stroke-width="0.8"/>
<text x="197.30" y="310.00" font-size="8.3" fill="#333" text-anchor="start" stroke="#333" stroke-width="0.22" >50</text>
<path d="M194.3 333.3 h2.5" stroke="#555" stroke-width="0.8"/>
<text x="197.30" y="336.20" font-size="8.3" fill="#333" text-anchor="start" stroke="#333" stroke-width="0.22" >0</text>
<path d="M194.3 292.9 h1.5" stroke="#555" stroke-width="0.7"/>
<path d="M194.3 320.2 h1.5" stroke="#555" stroke-width="0.7"/>
<path d="M194.3 258 h1.5" stroke="#555" stroke-width="0.7"/>
<path d="M192 249 l4.5 -3 M192 251 l4.5 -3" stroke="#555" stroke-width="0.7"/>
<text transform="translate(219 281) rotate(-90)" font-size="8.3" fill="#333" stroke="#333" stroke-width="0.2" text-anchor="middle">Time (ms)</text>
<path d="M44.9 347.7 L162.9 357.9 L194.3 333.3" stroke="#666" stroke-width="0.9" fill="none"/>
<path d="M44.9 347.7 l0 2.2" stroke="#666" stroke-width="0.7"/>
<path d="M74.4 350.2 l0 2.2" stroke="#666" stroke-width="0.7"/>
<path d="M103.9 352.8 l0 2.2" stroke="#666" stroke-width="0.7"/>
<path d="M133.4 355.3 l0 2.2" stroke="#666" stroke-width="0.7"/>
<path d="M162.9 357.9 l0 2.2" stroke="#666" stroke-width="0.7"/>
<path d="M173.3 349.8 l2.2 0.5" stroke="#666" stroke-width="0.7"/>
<path d="M183.6 341.7 l2.2 0.5" stroke="#666" stroke-width="0.7"/>
<text x="41.40" y="357.30" font-size="8.3" fill="#333" text-anchor="middle" stroke="#333" stroke-width="0.22" >0</text>
<text x="68.60" y="360.90" font-size="8.3" fill="#333" text-anchor="middle" stroke="#333" stroke-width="0.22" >250</text>
<text x="95.00" y="363.70" font-size="8.3" fill="#333" text-anchor="middle" stroke="#333" stroke-width="0.22" >500</text>
<text x="122.00" y="366.90" font-size="8.3" fill="#333" text-anchor="middle" stroke="#333" stroke-width="0.22" >750</text>
<text x="150.70" y="369.90" font-size="8.3" fill="#333" text-anchor="middle" stroke="#333" stroke-width="0.22" >1000</text>
<text x="197.00" y="345.00" font-size="8.3" fill="#333" text-anchor="middle" stroke="#333" stroke-width="0.22" >250</text>
<text x="187.90" y="352.00" font-size="8.3" fill="#333" text-anchor="middle" stroke="#333" stroke-width="0.22" >500</text>
<text x="180.70" y="358.70" font-size="8.3" fill="#333" text-anchor="middle" stroke="#333" stroke-width="0.22" >750</text>
<text x="175.00" y="366.30" font-size="8.3" fill="#333" text-anchor="middle" stroke="#333" stroke-width="0.22" >1000</text>
<text transform="translate(91.5 375) rotate(5)" font-size="8.3" fill="#333" stroke="#333" stroke-width="0.2" text-anchor="middle">Bubble diameter (μm)</text>
<text transform="translate(204.5 362) rotate(-45)" font-size="8.3" fill="#333" stroke="#333" stroke-width="0.2" text-anchor="middle">SW (μm)</text>
<circle cx="57.5" cy="238.6" r="2.1" fill="#fff" stroke="#2aa9e0" stroke-width="1.2"/>
<text x="66.00" y="241.30" font-size="7.6" fill="#333" text-anchor="start" stroke="#333" stroke-width="0.22" >SW-250 μm</text>
<circle cx="57.5" cy="248.0" r="2.1" fill="#fff" stroke="#e87a76" stroke-width="1.2"/>
<text x="66.00" y="250.70" font-size="7.6" fill="#333" text-anchor="start" stroke="#333" stroke-width="0.22" >SW-500 μm</text>
<circle cx="57.5" cy="257.4" r="2.1" fill="#fff" stroke="#b9d98e" stroke-width="1.2"/>
<text x="66.00" y="260.10" font-size="7.6" fill="#333" text-anchor="start" stroke="#333" stroke-width="0.22" >SW-750 μm</text>
<circle cx="57.5" cy="266.8" r="2.1" fill="#fff" stroke="#f0a046" stroke-width="1.2"/>
<text x="66.00" y="269.50" font-size="7.6" fill="#333" text-anchor="start" stroke="#333" stroke-width="0.22" >SW-1000 μm</text>
<g fill="#fff" stroke="#f0a046" stroke-width="1.35"><circle cx="63.6" cy="345.7" r="1.9"/><circle cx="67.1" cy="346.4" r="1.9"/><circle cx="71.4" cy="346.6" r="1.9"/><circle cx="74.3" cy="347.4" r="1.9"/><circle cx="77.9" cy="347.4" r="1.9"/><circle cx="80.7" cy="348.3" r="1.9"/><circle cx="84.3" cy="348.3" r="1.9"/><circle cx="87.1" cy="349" r="1.9"/><circle cx="90.7" cy="349" r="1.9"/><circle cx="95" cy="349.6" r="1.9"/><circle cx="115" cy="350.3" r="1.9"/><circle cx="131.4" cy="352.1" r="1.9"/><circle cx="134.3" cy="352.1" r="1.9"/><circle cx="148.6" cy="353.6" r="1.9"/></g>
<g fill="#fff" stroke="#b9d98e" stroke-width="1.35"><circle cx="80" cy="337.1" r="1.9"/><circle cx="88.6" cy="338.6" r="1.9"/><circle cx="90.7" cy="338.6" r="1.9"/><circle cx="92.9" cy="338.6" r="1.9"/><circle cx="95" cy="339.3" r="1.9"/><circle cx="97.1" cy="338.6" r="1.9"/><circle cx="101.4" cy="340" r="1.9"/><circle cx="104.3" cy="339.3" r="1.9"/><circle cx="107.9" cy="340" r="1.9"/><circle cx="112.1" cy="340" r="1.9"/><circle cx="115.7" cy="340" r="1.9"/><circle cx="119.3" cy="340" r="1.9"/><circle cx="145.7" cy="341.4" r="1.9"/><circle cx="160" cy="341.4" r="1.9"/></g>
<g fill="#fff" stroke="#e87a76" stroke-width="1.35"><circle cx="87.9" cy="331.4" r="1.9"/><circle cx="91.4" cy="333.4" r="1.9"/><circle cx="96.4" cy="333.6" r="1.9"/><circle cx="99.3" cy="333.6" r="1.9"/><circle cx="102.9" cy="333.4" r="1.9"/><circle cx="106.4" cy="332.6" r="1.9"/><circle cx="111.4" cy="333.6" r="1.9"/><circle cx="118.6" cy="334" r="1.9"/><circle cx="123.6" cy="333" r="1.9"/><circle cx="127.9" cy="332.6" r="1.9"/><circle cx="127.1" cy="334.3" r="1.9"/><circle cx="131.4" cy="333.6" r="1.9"/><circle cx="137.9" cy="335.7" r="1.9"/><circle cx="145.7" cy="333.6" r="1.9"/><circle cx="150" cy="330" r="1.9"/><circle cx="150.7" cy="335" r="1.9"/><circle cx="157.4" cy="330.7" r="1.9"/></g>
<g fill="#fff" stroke="#2aa9e0" stroke-width="1.35"><circle cx="143" cy="230" r="1.9"/><circle cx="157.1" cy="230" r="1.9"/><circle cx="164.3" cy="230" r="1.9"/><circle cx="168.1" cy="230" r="1.9"/><circle cx="144.3" cy="248.6" r="1.9"/><circle cx="111.4" cy="253.6" r="1.9"/><circle cx="125.7" cy="282.6" r="1.9"/><circle cx="143.9" cy="285.7" r="1.9"/><circle cx="117.9" cy="314" r="1.9"/><circle cx="123.6" cy="314.3" r="1.9"/><circle cx="109.3" cy="317.9" r="1.9"/><circle cx="111.9" cy="320.7" r="1.9"/><circle cx="114.7" cy="318.6" r="1.9"/><circle cx="100.4" cy="327" r="1.9"/><circle cx="102.9" cy="327.6" r="1.9"/><circle cx="109.3" cy="325" r="1.9"/><circle cx="111.4" cy="327.4" r="1.9"/><circle cx="137.1" cy="325" r="1.9"/></g>
<defs>
<filter id="fNoise" x="0" y="0" width="100%" height="100%" color-interpolation-filters="sRGB"><feTurbulence type="fractalNoise" baseFrequency="0.5" numOctaves="2" seed="4"/><feColorMatrix type="matrix" values="0.33 0.33 0.33 0 0  0.33 0.33 0.33 0 0  0.33 0.33 0.33 0 0  0 0 0 0 1"/><feComponentTransfer><feFuncR type="linear" slope="2.4" intercept="-0.72"/><feFuncG type="linear" slope="2.4" intercept="-0.72"/><feFuncB type="linear" slope="2.4" intercept="-0.72"/></feComponentTransfer></filter>
<filter id="fNoise2" x="0" y="0" width="100%" height="100%" color-interpolation-filters="sRGB"><feTurbulence type="fractalNoise" baseFrequency="1.1" numOctaves="1" seed="9"/><feColorMatrix type="matrix" values="0.33 0.33 0.33 0 0  0.33 0.33 0.33 0 0  0.33 0.33 0.33 0 0  0 0 0 0 1"/><feComponentTransfer><feFuncR type="linear" slope="1.8" intercept="-0.4"/><feFuncG type="linear" slope="1.8" intercept="-0.4"/><feFuncB type="linear" slope="1.8" intercept="-0.4"/></feComponentTransfer></filter>
<filter id="fNoise3" x="0" y="0" width="100%" height="100%" color-interpolation-filters="sRGB"><feTurbulence type="fractalNoise" baseFrequency="0.35 0.6" numOctaves="2" seed="12"/><feColorMatrix type="matrix" values="0.33 0.33 0.33 0 0  0.33 0.33 0.33 0 0  0.33 0.33 0.33 0 0  0 0 0 0 1"/><feComponentTransfer><feFuncR type="linear" slope="2.0" intercept="-0.55"/><feFuncG type="linear" slope="2.0" intercept="-0.55"/><feFuncB type="linear" slope="2.0" intercept="-0.55"/></feComponentTransfer></filter>
<filter id="fTex" x="0" y="0" width="100%" height="100%" color-interpolation-filters="sRGB"><feTurbulence type="fractalNoise" baseFrequency="0.35" numOctaves="2" seed="2"/><feColorMatrix type="matrix" values="0 0 0 0 0.45  0 0 0 0 0.5  0 0 0 0 0.4  0 0 0 -1.6 1.0"/></filter>
<linearGradient id="gUF" x1="0" y1="0" x2="0" y2="1"><stop offset="0" stop-color="#ffffff"/><stop offset="0.3" stop-color="#e3f2fd"/><stop offset="1" stop-color="#3aa6ef"/></linearGradient>
<clipPath id="cpMic"><rect x="25.3" y="411.3" width="102.2" height="71.7"/></clipPath>
<clipPath id="cpF1"><rect x="144.5" y="411" width="69.5" height="35"/></clipPath>
<clipPath id="cpF2"><rect x="144.5" y="496" width="69.5" height="36"/></clipPath>
</defs>
<text x="76.10" y="408.50" font-size="7.5" fill="#444" text-anchor="middle" stroke="#444" stroke-width="0.22" >SAL/SAB Pt</text>
<rect x="25.3" y="411.3" width="102.2" height="71.7" fill="#b3c19e"/>
<g clip-path="url(#cpMic)"><rect x="25.3" y="411.3" width="102.2" height="71.7" filter="url(#fTex)" opacity="0.55"/></g>
<g clip-path="url(#cpMic)">
<path d="M21.3 420.5L19.9 434.4M34.1 404.4L32.3 409.7M32.3 409.7L27.3 419.6M21.3 420.5L27.3 419.6M63.0 405.5L70.5 420.3M70.5 420.3L74.9 419.6M84.6 405.9L74.9 419.6M84.6 405.9L91.4 416.9M91.4 416.9L94.9 417.7M94.9 417.7L107.4 404.2M70.5 420.3L69.8 421.6M74.9 419.6L82.3 427.5M76.5 430.5L69.8 421.6M76.5 430.5L77.1 430.8M77.1 430.8L82.3 427.5M91.4 416.9L85.9 426.2M85.9 426.2L85.1 427.2M85.1 427.2L82.3 427.5M76.5 430.5L62.7 428.6M69.8 421.6L62.7 427.6M62.7 428.6L62.7 427.6M63.0 405.5L55.4 415.6M55.4 415.6L60.2 424.3M60.2 424.3L62.7 427.6M32.1 471.6L25.7 465.7M23.4 458.1L24.2 458.8M25.7 465.7L24.2 458.8M32.1 471.6L37.4 473.1M40.2 481.3L37.4 473.1M24.2 458.8L26.9 458.4M26.9 458.4L40.4 467.8M37.4 473.1L40.4 467.8M135.4 454.2L131.8 452.0M126.5 442.5L131.8 452.0M126.5 442.5L123.2 441.4M123.2 441.4L122.3 433.4M122.3 433.4L128.9 425.9M94.9 417.7L99.2 420.5M107.4 404.2L109.2 406.3M99.2 420.5L108.7 417.9M108.7 417.9L109.2 406.3M19.9 434.4L24.3 438.2M24.3 439.0L24.3 438.2M27.3 419.6L31.9 427.5M31.9 427.5L29.2 431.7M24.3 438.2L29.2 431.7M40.2 481.3L41.2 481.7M68.0 480.0L55.1 487.5M41.2 481.7L45.1 481.3M45.1 481.3L47.8 482.0M47.8 482.0L55.1 487.5M75.1 437.7L77.1 430.8M75.1 437.7L74.2 438.8M62.7 428.6L61.6 432.4M74.2 438.8L61.6 432.4M68.0 480.0L68.2 479.5M80.9 481.6L68.2 479.5M118.7 450.1L121.3 442.2M118.7 450.1L113.6 453.0M113.6 453.0L112.2 452.5M112.2 452.5L115.2 441.4M115.2 441.4L121.3 442.2M131.8 452.0L124.6 453.8M124.6 453.8L118.7 450.1M123.2 441.4L121.3 442.2M124.6 453.8L118.6 460.8M118.6 460.8L113.6 453.0M85.9 426.2L100.6 431.1M99.2 420.5L102.0 430.6M100.6 431.1L102.0 430.6M128.9 425.9L124.7 421.3M124.7 421.3L124.1 417.0M126.7 409.6L124.1 417.0M118.4 423.8L124.7 421.3M118.4 423.8L112.1 417.8M112.1 417.8L116.3 415.8M124.1 417.0L116.3 415.8M75.1 437.7L81.2 438.1M85.1 427.2L85.2 427.4M85.2 427.4L81.2 438.1M103.2 451.8L108.3 452.6M103.2 451.8L112.9 467.6M108.3 452.6L113.4 467.2M112.9 467.6L113.4 467.2M114.8 466.6L118.8 463.8M114.8 466.6L124.9 479.5M118.8 463.8L125.8 466.0M125.8 466.0L128.3 470.6M128.3 470.6L128.3 473.0M128.3 473.0L124.9 479.5M124.9 479.5L124.9 479.5M118.6 460.8L118.8 463.8M112.2 452.5L108.3 452.6M113.4 467.2L114.8 466.6M135.4 454.2L125.8 466.0M119.3 483.4L124.9 479.5M49.4 427.4L48.4 429.2M49.4 427.4L52.7 416.2M48.4 429.2L41.1 427.7M52.7 416.2L48.9 415.6M48.9 415.6L42.7 422.8M42.7 422.8L41.1 427.7M60.2 424.3L49.4 427.4M51.9 433.6L48.4 429.2M51.9 433.6L58.1 436.1M61.6 432.4L58.1 436.1M55.4 415.6L52.7 416.2M34.1 404.4L48.9 415.6M32.3 409.7L42.7 422.8M31.9 427.5L36.4 428.9M41.1 427.7L39.9 428.3M36.4 428.9L39.9 428.3M51.9 433.6L44.7 438.5M39.9 428.3L44.7 438.5M40.4 467.8L42.0 465.9M45.1 481.3L50.8 472.1M42.0 465.9L50.8 472.1M26.9 458.4L37.9 455.2M37.9 455.2L45.7 457.2M42.0 465.9L45.7 457.2M36.1 441.3L28.7 443.4M36.1 441.3L37.8 441.0M37.8 441.0L38.8 441.6M38.8 441.6L35.6 450.6M35.6 450.6L28.8 445.0M28.8 445.0L28.7 443.4M24.3 439.0L28.7 443.4M29.2 431.7L36.1 441.3M36.4 428.9L37.8 441.0M44.7 438.5L42.9 442.5M42.9 442.5L38.8 441.6M37.9 455.2L35.6 450.6M42.9 442.5L51.6 454.1M51.6 454.1L45.7 457.2M23.4 458.1L28.8 445.0M74.2 438.8L73.7 446.7M81.2 438.1L86.1 439.6M86.1 439.6L85.3 444.1M85.3 444.1L80.3 447.9M73.7 446.7L80.3 447.9M105.3 470.0L93.0 481.0M105.3 470.0L98.7 462.0M93.0 481.0L87.8 478.8M87.8 478.8L98.7 462.0M85.3 444.1L100.0 450.4M100.1 450.9L100.0 450.4M100.1 450.9L96.5 456.9M80.3 447.9L87.6 458.9M87.6 458.9L96.5 456.9M105.3 470.0L109.0 470.8M109.0 470.8L112.9 467.6M100.1 450.9L103.2 451.8M98.7 462.0L96.5 456.9M58.1 436.1L58.1 448.8M73.7 446.7L69.6 449.8M69.6 449.8L69.5 449.8M69.5 449.8L58.1 448.8M51.6 454.1L51.7 454.1M58.1 448.8L51.7 454.1M97.6 487.2L111.6 478.4M117.7 483.9L111.6 478.4M80.9 481.6L86.7 478.6M93.0 481.0L97.6 487.2M87.8 478.8L86.7 478.6M119.3 483.4L117.7 483.9M109.0 470.8L111.6 478.4M96.0 433.5L95.4 441.8M96.0 433.5L88.4 433.3M95.4 441.8L88.1 437.2M88.4 433.3L88.1 437.2M100.6 431.1L96.0 433.5M85.2 427.4L88.4 433.3M100.2 449.2L95.4 441.8M100.2 449.2L100.0 450.4M86.1 439.6L88.1 437.2M103.2 431.5L105.3 440.9M103.2 431.5L112.4 428.5M114.9 430.7L113.7 428.9M114.9 430.7L112.8 440.1M112.8 440.1L105.3 440.9M113.7 428.9L112.4 428.5M100.2 449.2L105.3 440.9M102.0 430.6L103.2 431.5M108.8 418.0L108.7 417.9M108.8 418.0L112.4 428.5M118.4 423.8L113.7 428.9M122.3 433.4L114.9 430.7M115.2 441.4L112.8 440.1M112.1 417.8L108.8 418.0M111.2 406.8L115.7 412.5M111.2 406.8L124.4 406.4M115.7 412.5L124.9 407.3M124.4 406.4L124.9 407.3M109.2 406.3L111.2 406.8M116.3 415.8L115.7 412.5M126.7 409.6L124.9 407.3M86.7 478.6L84.4 468.0M87.6 458.9L86.2 460.2M84.4 468.0L86.2 460.2M69.6 449.8L85.3 460.2M85.3 460.2L86.2 460.2M72.5 467.5L72.4 460.3M72.5 467.5L67.1 477.0M67.1 477.0L61.9 473.2M72.3 460.2L57.9 464.5M72.3 460.2L72.4 460.3M61.9 473.2L58.9 469.1M58.9 469.1L57.9 464.5M84.4 468.0L72.5 467.5M85.3 460.2L72.4 460.3M68.2 479.5L67.1 477.0M47.8 482.0L61.9 473.2M69.5 449.8L72.3 460.2M51.7 454.1L57.9 464.5M50.8 472.1L58.9 469.1" stroke="#6f7b60" stroke-width="0.5" fill="none" opacity="0.6" stroke-linejoin="round"/>
<path d="M36.1 411.3 L36.3 413.3 L36.2 415.3 L35.2 417.3 L36.5 419.3 L36.5 421.3 L35.9 423.3 L36.0 425.3 L35.2 427.3 L35.6 429.3 L36.3 431.3 L36.3 433.3 L36.1 435.3 L35.2 437.3 L35.5 439.3 L36.6 441.3 L35.6 443.3 L36.0 445.3 L35.5 447.3 L36.2 449.3 L36.5 451.3 L35.7 453.3 L35.4 455.3 L35.6 457.3 L35.2 459.3 L35.7 461.3 L36.3 463.3 L35.6 465.3 L36.2 467.3 L36.6 469.3 L36.2 471.3 L35.2 473.3 L35.7 475.3 L35.2 477.3 L35.5 479.3 L35.5 481.3 L35.9 483.0 L43.9 483.0 L44.3 481.3 L44.5 479.3 L43.3 477.3 L44.0 475.3 L44.3 473.3 L44.4 471.3 L43.2 469.3 L43.3 467.3 L43.9 465.3 L43.9 463.3 L43.6 461.3 L44.1 459.3 L44.0 457.3 L43.3 455.3 L43.4 453.3 L43.6 451.3 L44.6 449.3 L44.5 447.3 L44.1 445.3 L44.5 443.3 L44.4 441.3 L43.5 439.3 L44.4 437.3 L43.4 435.3 L43.4 433.3 L43.4 431.3 L44.5 429.3 L43.5 427.3 L44.0 425.3 L43.5 423.3 L43.4 421.3 L44.1 419.3 L43.9 417.3 L44.5 415.3 L44.5 413.3 L44.2 411.3 Z" fill="#17170f"/>
<path d="M54.4 411.3 L54.0 413.3 L53.3 415.3 L54.0 417.3 L53.8 419.3 L53.7 421.3 L54.3 423.3 L54.1 425.3 L53.6 427.3 L54.4 429.3 L54.4 431.3 L54.5 433.3 L53.4 435.3 L54.4 437.3 L53.4 439.3 L54.2 441.3 L54.6 443.3 L53.6 445.3 L53.8 447.3 L54.6 449.3 L54.2 451.3 L54.4 453.3 L53.3 455.3 L54.1 457.3 L54.1 459.3 L54.5 461.3 L53.5 463.3 L53.7 465.3 L54.0 467.3 L53.6 469.3 L54.3 471.3 L54.4 473.3 L53.8 475.3 L54.2 477.3 L53.8 479.3 L53.5 481.3 L54.0 483.0 L62.0 483.0 L62.7 481.3 L61.8 479.3 L61.7 477.3 L62.6 475.3 L61.3 473.3 L61.3 471.3 L62.5 469.3 L61.5 467.3 L61.6 465.3 L62.2 463.3 L62.0 461.3 L61.4 459.3 L61.7 457.3 L61.8 455.3 L62.7 453.3 L62.3 451.3 L62.0 449.3 L62.6 447.3 L62.2 445.3 L62.1 443.3 L61.7 441.3 L61.6 439.3 L61.9 437.3 L62.4 435.3 L61.8 433.3 L62.3 431.3 L61.7 429.3 L62.1 427.3 L62.3 425.3 L61.9 423.3 L62.4 421.3 L62.4 419.3 L62.4 417.3 L62.2 415.3 L61.7 413.3 L62.5 411.3 Z" fill="#17170f"/>
<path d="M72.1 411.3 L72.5 413.3 L72.4 415.3 L71.7 417.3 L71.7 419.3 L71.7 421.3 L72.2 423.3 L71.8 425.3 L72.5 427.3 L72.4 429.3 L73.0 431.3 L72.8 433.3 L71.8 435.3 L72.0 437.3 L71.9 439.3 L72.5 441.3 L72.4 443.3 L71.7 445.3 L72.6 447.3 L72.0 449.3 L72.2 451.3 L72.7 453.3 L71.9 455.3 L72.3 457.3 L72.6 459.3 L73.0 461.3 L72.2 463.3 L71.8 465.3 L71.7 467.3 L72.7 469.3 L72.8 471.3 L72.6 473.3 L72.4 475.3 L72.8 477.3 L72.3 479.3 L71.7 481.3 L72.3 483.0 L80.3 483.0 L80.6 481.3 L80.5 479.3 L80.9 477.3 L80.2 475.3 L80.4 473.3 L80.0 471.3 L80.4 469.3 L80.5 467.3 L80.3 465.3 L80.7 463.3 L79.8 461.3 L80.0 459.3 L80.8 457.3 L80.4 455.3 L80.6 453.3 L80.0 451.3 L80.4 449.3 L80.2 447.3 L79.9 445.3 L79.7 443.3 L80.1 441.3 L80.4 439.3 L80.7 437.3 L79.8 435.3 L80.0 433.3 L79.7 431.3 L80.2 429.3 L80.9 427.3 L79.9 425.3 L80.8 423.3 L79.7 421.3 L80.2 419.3 L80.3 417.3 L80.1 415.3 L79.7 413.3 L79.8 411.3 Z" fill="#17170f"/>
<path d="M90.2 411.3 L90.1 413.3 L90.0 415.3 L91.3 417.3 L90.8 419.3 L90.5 421.3 L90.2 423.3 L90.0 425.3 L89.9 427.3 L90.5 429.3 L90.4 431.3 L90.3 433.3 L90.0 435.3 L90.4 437.3 L90.4 439.3 L90.6 441.3 L91.2 443.3 L90.1 445.3 L91.2 447.3 L90.2 449.3 L90.7 451.3 L91.1 453.3 L90.4 455.3 L90.1 457.3 L90.0 459.3 L90.9 461.3 L91.1 463.3 L90.2 465.3 L90.6 467.3 L90.0 469.3 L90.6 471.3 L90.2 473.3 L89.9 475.3 L90.3 477.3 L90.4 479.3 L91.1 481.3 L90.6 483.0 L98.6 483.0 L98.1 481.3 L99.1 479.3 L98.5 477.3 L98.4 475.3 L98.2 473.3 L98.9 471.3 L99.2 469.3 L98.6 467.3 L98.1 465.3 L98.6 463.3 L99.2 461.3 L98.9 459.3 L99.0 457.3 L99.1 455.3 L98.3 453.3 L98.9 451.3 L99.2 449.3 L98.6 447.3 L98.0 445.3 L98.7 443.3 L98.8 441.3 L98.9 439.3 L98.8 437.3 L98.8 435.3 L99.3 433.3 L98.1 431.3 L99.2 429.3 L98.3 427.3 L98.2 425.3 L99.1 423.3 L98.6 421.3 L98.5 419.3 L98.2 417.3 L98.2 415.3 L98.9 413.3 L99.2 411.3 Z" fill="#17170f"/>
<path d="M108.8 411.3 L108.4 413.3 L108.2 415.3 L109.5 417.3 L109.0 419.3 L108.3 421.3 L109.2 423.3 L109.2 425.3 L108.5 427.3 L108.9 429.3 L109.0 431.3 L108.7 433.3 L108.3 435.3 L109.1 437.3 L108.8 439.3 L108.6 441.3 L108.6 443.3 L108.5 445.3 L109.4 447.3 L108.7 449.3 L108.2 451.3 L109.5 453.3 L109.0 455.3 L109.0 457.3 L108.5 459.3 L108.3 461.3 L108.2 463.3 L108.9 465.3 L108.8 467.3 L109.1 469.3 L109.0 471.3 L109.1 473.3 L108.3 475.3 L109.0 477.3 L108.6 479.3 L109.6 481.3 L108.9 483.0 L116.9 483.0 L116.4 481.3 L117.6 479.3 L116.4 477.3 L117.0 475.3 L117.5 473.3 L116.4 471.3 L116.3 469.3 L116.8 467.3 L117.5 465.3 L116.3 463.3 L117.0 461.3 L116.2 459.3 L117.5 457.3 L116.4 455.3 L116.4 453.3 L116.8 451.3 L116.9 449.3 L116.3 447.3 L117.4 445.3 L117.3 443.3 L116.5 441.3 L116.3 439.3 L117.2 437.3 L116.6 435.3 L117.2 433.3 L117.3 431.3 L117.5 429.3 L116.4 427.3 L116.4 425.3 L116.8 423.3 L116.7 421.3 L117.1 419.3 L116.3 417.3 L116.9 415.3 L117.4 413.3 L116.7 411.3 Z" fill="#17170f"/>
</g>
<rect x="66.2" y="441.8" width="15.8" height="10.5" fill="none" stroke="#c0504a" stroke-width="0.7"/>
<rect x="63.2" y="463" width="5.2" height="5" fill="none" stroke="#38aee6" stroke-width="1.1"/>
<rect x="72.6" y="463" width="5.2" height="5" fill="none" stroke="#e02020" stroke-width="1.1"/>
<rect x="81.6" y="463" width="5.2" height="5" fill="none" stroke="#38aee6" stroke-width="1.1"/>
<rect x="90.6" y="469" width="26.5" height="8.5" fill="#6a6a6a" opacity="0.85"/>
<text x="103.80" y="476.50" font-size="7.6" fill="#f4f4f4" text-anchor="middle" stroke="#f4f4f4" stroke-width="0.22" >500 μm</text>
<rect x="102" y="480" width="15" height="1.4" fill="#fff"/>
<path d="M82 441.8 L144.5 411 M82 452.3 L144.5 483" stroke="#f08c86" stroke-width="0.8" fill="none"/>
<rect x="24.6" y="486" width="29.4" height="26.6" fill="#888"/>
<rect x="24.6" y="486" width="29.4" height="26.6" filter="url(#fNoise)"/>
<rect x="25.200000000000003" y="486.6" width="28.2" height="25.4" fill="none" stroke="#4ab4e6" stroke-width="1.2"/>
<text x="39.30" y="494.50" font-size="8" fill="#e8e8e8" text-anchor="middle" stroke="#e8e8e8" stroke-width="0.22" opacity="0.9">SAL</text>
<rect x="56.4" y="486" width="39.800000000000004" height="26.6" fill="#888"/>
<rect x="56.4" y="486" width="39.800000000000004" height="26.6" filter="url(#fNoise3)"/>
<rect x="57.0" y="486.6" width="38.6" height="25.4" fill="none" stroke="#e05a55" stroke-width="1.2"/>
<text x="76.30" y="494.50" font-size="8" fill="#e8e8e8" text-anchor="middle" stroke="#e8e8e8" stroke-width="0.22" opacity="0.9">SAB Pt</text>
<rect x="98" y="486" width="29.700000000000003" height="26.6" fill="#888"/>
<rect x="98" y="486" width="29.700000000000003" height="26.6" filter="url(#fNoise)"/>
<rect x="98.6" y="486.6" width="28.500000000000004" height="25.4" fill="none" stroke="#4ab4e6" stroke-width="1.2"/>
<text x="112.85" y="494.50" font-size="8" fill="#e8e8e8" text-anchor="middle" stroke="#e8e8e8" stroke-width="0.22" opacity="0.9">SAL</text>
<text x="84.00" y="508.50" font-size="6.6" fill="#f0f0f0" text-anchor="middle" stroke="#f0f0f0" stroke-width="0.22" >500 μm</text>
<rect x="82" y="510" width="9" height="1.2" fill="#fff"/>
<rect x="25" y="514" width="102.5" height="55" fill="url(#gUF)"/>
<text x="75.50" y="531.20" font-size="7.4" fill="#333" text-anchor="middle" stroke="#333" stroke-width="0.22" >Ultrafast transfer</text>
<clipPath id="cpUF"><rect x="25" y="514" width="102.5" height="55"/></clipPath>
<g clip-path="url(#cpUF)"><path d="M25 555 l4 3 l4 -3 l4 3 l4 -3 l4 3 l4 -3 l4 3 l4 -3 V564 H25 Z" fill="#a9a57c"/><path d="M97 555 l4 3 l4 -3 l4 3 l4 -3 l4 3 l4 -3 l4 3 l4 -3 l2.5 1.5 V564 H97 Z" fill="#a9a57c"/></g>
<rect x="25" y="562" width="102.5" height="7" fill="#2f2f28"/>
<path d="M57.0 562 l0.8 -4 l1 0 l0.8 4 Z M60.6 562 l0.8 -4 l1 0 l0.8 4 Z M64.2 562 l0.8 -4 l1 0 l0.8 4 Z M67.8 562 l0.8 -4 l1 0 l0.8 4 Z M71.4 562 l0.8 -4 l1 0 l0.8 4 Z M75.0 562 l0.8 -4 l1 0 l0.8 4 Z M78.6 562 l0.8 -4 l1 0 l0.8 4 Z M82.2 562 l0.8 -4 l1 0 l0.8 4 Z M85.8 562 l0.8 -4 l1 0 l0.8 4 Z M89.4 562 l0.8 -4 l1 0 l0.8 4 Z M93.0 562 l0.8 -4 l1 0 l0.8 4 Z " fill="#3a3a3a"/>
<circle cx="58.5" cy="555.5" r="4.3" fill="#fff"/>
<path d="M60.5 554 l-3 2.5" stroke="#e02020" stroke-width="1"/><path d="M56 558 l1 -2.8 l2 1.8 z" fill="#e02020"/>
<circle cx="95" cy="558" r="1" fill="#fff" stroke="#e05050" stroke-width="0.5"/>
<rect x="144.5" y="411" width="69.5" height="35" fill="#d0dfb9"/>
<g clip-path="url(#cpF1)">
<rect x="144.5" y="411" width="69.5" height="35" filter="url(#fTex)" opacity="0.22"/>
<path d="M213.4 429.5L209.7 436.9M225.8 416.1L215.6 422.7M215.6 422.7L213.4 429.5M205.1 452.6L207.1 439.0M205.1 452.6L182.0 433.2M207.1 439.0L202.1 435.3M202.1 435.3L182.2 432.8M182.0 433.2L182.2 432.8M209.7 436.9L207.1 439.0M182.0 433.2L177.4 437.9M145.4 434.9L163.9 443.9M145.4 434.9L149.7 429.5M149.7 429.5L161.8 428.6M161.8 428.6L168.1 438.4M168.1 438.4L163.9 443.9M177.4 437.9L168.1 438.4M154.4 404.1L158.5 416.6M154.4 404.1L143.5 419.3M158.5 416.6L146.0 421.3M143.5 419.3L146.0 421.3M179.1 412.0L162.8 421.3M162.8 421.3L158.5 416.6M162.8 421.3L161.8 428.6M149.7 429.5L146.0 421.3M179.1 412.0L180.5 413.0M182.2 432.8L184.4 419.6M180.5 413.0L184.4 419.6M215.6 422.7L205.3 417.5M202.1 435.3L198.0 422.3M205.3 417.5L198.0 422.3M184.4 419.6L187.9 419.7M198.0 422.3L187.9 419.7M203.8 411.6L196.9 412.9M203.8 411.6L205.6 398.4M196.9 412.9L193.3 405.2M205.3 417.5L203.8 411.6M187.9 419.7L196.9 412.9M225.8 416.1L205.6 398.4M180.5 413.0L193.3 405.2" stroke="#5f6d48" stroke-width="0.7" fill="none" opacity="0.8" stroke-linejoin="round"/>
<path d="M169.5 411.0 L170.9 414.0 L169.6 417.0 L171.4 420.0 L170.5 423.0 L169.0 426.0 L170.8 429.0 L171.4 432.0 L169.7 435.0 L172.0 438.0 L171.6 441.0 L169.1 444.0 L170.5 446.0 L189.5 446.0 L189.0 444.0 L189.8 441.0 L190.2 438.0 L188.1 435.0 L188.7 432.0 L188.2 429.0 L189.1 426.0 L188.7 423.0 L189.5 420.0 L190.4 417.0 L189.4 414.0 L190.1 411.0 Z" fill="#12120c"/>
</g>
<rect x="144.5" y="446" width="69.5" height="2" fill="#f5f5f5"/>
<rect x="144.5" y="448" width="69.5" height="35" fill="#d3e2c4"/>
<rect x="170" y="448" width="18.5" height="35" fill="#a8a8aa"/>
<rect x="170" y="448" width="18.5" height="35" filter="url(#fNoise2)" opacity="0.3"/>
<rect x="146" y="436" width="19.5" height="9" fill="#eef0ea" opacity="0.85"/>
<text x="155.70" y="443.40" font-size="7.6" fill="#333" text-anchor="middle" stroke="#333" stroke-width="0.22" >0 ms</text>
<rect x="144.8" y="411.3" width="69" height="71.4" fill="none" stroke="#f2a09a" stroke-width="1"/>
<rect x="144.5" y="496" width="69.5" height="36" fill="#d0dfb9"/>
<g clip-path="url(#cpF2)">
<rect x="144.5" y="496" width="69.5" height="36" filter="url(#fTex)" opacity="0.22"/>
<path d="M197.8 498.9L205.6 504.5M205.6 504.5L213.9 503.4M215.3 502.4L213.9 503.4M193.2 526.9L194.7 525.7M194.7 525.7L217.3 523.4M188.4 501.2L188.4 523.8M188.4 501.2L197.8 498.9M188.4 523.8L193.2 526.9M205.6 504.5L194.7 525.7M188.4 523.8L180.4 521.6M174.4 538.8L180.4 521.6M213.9 503.4L217.3 523.4M167.1 509.2L160.4 499.7M167.1 509.2L170.5 509.8M170.5 509.8L181.6 499.3M160.4 499.7L178.3 486.5M178.3 486.5L181.6 499.3M188.4 501.2L181.6 499.3M180.4 521.6L180.1 521.5M180.1 521.5L170.5 509.8M139.0 522.3L141.9 520.0M139.0 522.3L144.4 531.4M141.9 520.0L147.5 521.1M147.5 521.1L144.4 531.4M174.4 538.8L168.5 531.8M156.8 536.9L168.5 531.8M180.1 521.5L170.0 529.2M168.5 531.8L170.0 529.2M146.2 510.1L148.7 520.1M146.2 510.1L161.7 514.8M148.7 520.1L157.5 520.9M157.5 520.9L159.5 519.0M161.7 514.8L159.5 519.0M147.5 521.1L148.7 520.1M167.1 509.2L161.7 514.8M156.8 536.9L157.5 520.9M170.0 529.2L159.5 519.0" stroke="#5f6d48" stroke-width="0.7" fill="none" opacity="0.8" stroke-linejoin="round"/>
<path d="M171.9 496.0 L169.1 499.0 L169.6 502.0 L171.0 505.0 L171.7 508.0 L171.9 511.0 L170.8 514.0 L171.1 517.0 L171.1 520.0 L171.6 523.0 L169.9 526.0 L171.5 529.0 L171.8 532.0 L170.5 532.0 L189.5 532.0 L190.3 532.0 L189.7 529.0 L188.6 526.0 L189.8 523.0 L188.1 520.0 L190.8 517.0 L190.8 514.0 L189.0 511.0 L188.7 508.0 L189.0 505.0 L188.4 502.0 L191.0 499.0 L188.4 496.0 Z" fill="#12120c"/>
</g>
<rect x="144.5" y="532" width="69.5" height="2" fill="#f5f5f5"/>
<rect x="144.5" y="534" width="69.5" height="35" fill="#d3e2c4"/>
<rect x="170" y="534" width="18.5" height="35" fill="#a8a8aa"/>
<rect x="170" y="534" width="18.5" height="35" filter="url(#fNoise2)" opacity="0.3"/>
<rect x="146" y="522" width="19.5" height="9" fill="#eef0ea" opacity="0.85"/>
<text x="155.70" y="529.40" font-size="7.6" fill="#333" text-anchor="middle" stroke="#333" stroke-width="0.22" >2 ms</text>
<rect x="144.8" y="496.3" width="69" height="72.4" fill="none" stroke="#f2a09a" stroke-width="1"/>
<circle cx="176.5" cy="425.5" r="7" fill="none" stroke="#d82828" stroke-width="0.9"/>
<path d="M167.5 428 H160" stroke="#e02020" stroke-width="1.1"/><path d="M157.5 428 l3.5 -2 v4 z" fill="#e02020"/>
<circle cx="176" cy="467" r="5" fill="none" stroke="#f0f0f0" stroke-width="1"/><circle cx="175" cy="465.5" r="1.2" fill="#fff"/>
<path d="M168 467 H161" stroke="#e02020" stroke-width="1.1"/><path d="M158.5 467 l3.5 -2 v4 z" fill="#e02020"/>
<path d="M152 512 V504" stroke="#e02020" stroke-width="1.3"/><path d="M150 505 l2 -3.5 l2 3.5 z" fill="#e02020"/>
<path d="M152 549 V541" stroke="#e02020" stroke-width="1.3"/><path d="M150 542 l2 -3.5 l2 3.5 z" fill="#e02020"/>
<circle cx="159.5" cy="543" r="5" fill="none" stroke="#f0f0f0" stroke-width="1"/>
<path d="M179 485.5 V492" stroke="#f4a6a0" stroke-width="2.5"/><path d="M174.5 490 L179 496 L183.5 490 Z" fill="#f08a84"/>
</svg></body></html>
